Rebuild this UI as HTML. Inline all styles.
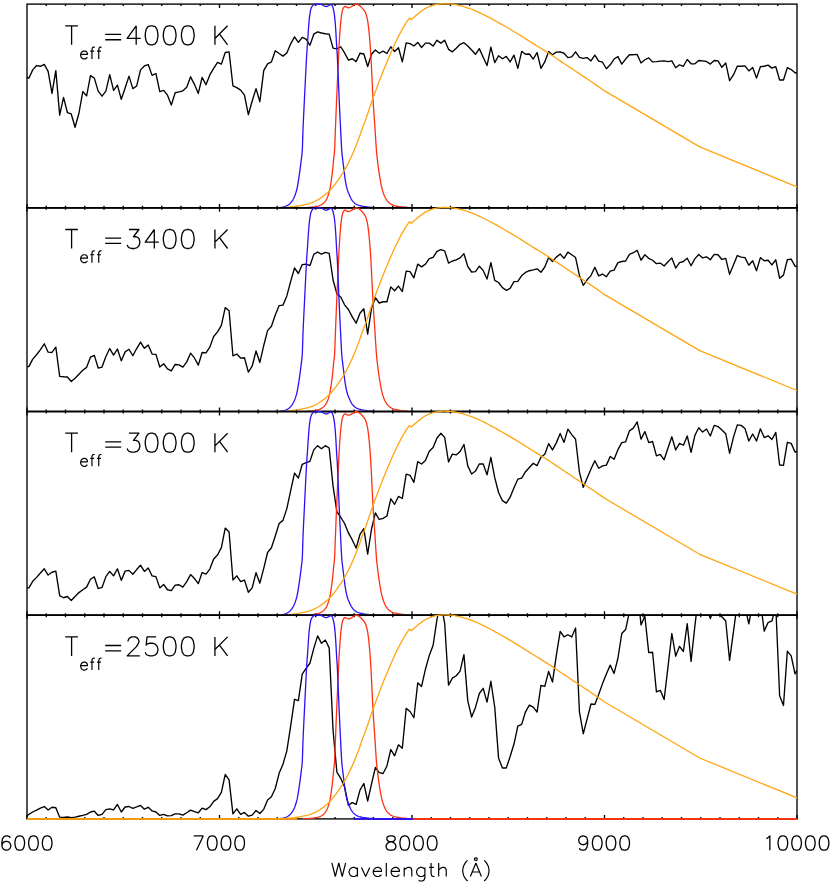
<!DOCTYPE html>
<html><head><meta charset="utf-8"><title>Spectra and filter curves</title>
<style>
html,body{margin:0;padding:0;background:#fff}
body{width:830px;height:884px;position:relative;overflow:hidden;font-family:"Liberation Sans",sans-serif}
.sr{position:absolute;left:0;top:0;width:830px;height:884px;color:transparent;font-size:10px;overflow:hidden;pointer-events:none}
.sr span{position:absolute;white-space:nowrap}
</style></head><body>
<svg width="830" height="884" viewBox="0 0 830 884" style="position:absolute;left:0;top:0">
<defs>
<clipPath id="c0"><rect x="27.00" y="4.10" width="770.00" height="203.70"/></clipPath>
<clipPath id="c1"><rect x="27.00" y="207.80" width="770.00" height="203.70"/></clipPath>
<clipPath id="c2"><rect x="27.00" y="411.50" width="770.00" height="203.70"/></clipPath>
<clipPath id="c3"><rect x="27.00" y="615.20" width="770.00" height="203.70"/></clipPath>
<clipPath id="f0"><rect x="0" y="1.10" width="830" height="205.85"/></clipPath>
<clipPath id="f1"><rect x="0" y="204.80" width="830" height="205.85"/></clipPath>
<clipPath id="f2"><rect x="0" y="408.50" width="830" height="205.85"/></clipPath>
</defs>
<rect width="830" height="884" fill="#fff"/>
<g fill="none" stroke="#000" stroke-width="1.35">
<rect x="27.00" y="4.10" width="770.00" height="203.70"/>
<path d="M27.00 207.80v-3.90 M46.25 4.10v2.00 M46.25 207.80v-2.00 M65.50 4.10v2.00 M65.50 207.80v-2.00 M84.75 4.10v2.00 M84.75 207.80v-2.00 M104.00 4.10v2.00 M104.00 207.80v-2.00 M123.25 4.10v2.00 M123.25 207.80v-2.00 M142.50 4.10v2.00 M142.50 207.80v-2.00 M161.75 4.10v2.00 M161.75 207.80v-2.00 M181.00 4.10v2.00 M181.00 207.80v-2.00 M200.25 4.10v2.00 M200.25 207.80v-2.00 M219.50 4.10v3.90 M219.50 207.80v-3.90 M238.75 4.10v2.00 M238.75 207.80v-2.00 M258.00 4.10v2.00 M258.00 207.80v-2.00 M277.25 4.10v2.00 M277.25 207.80v-2.00 M296.50 4.10v2.00 M296.50 207.80v-2.00 M315.75 4.10v2.00 M315.75 207.80v-2.00 M335.00 4.10v2.00 M335.00 207.80v-2.00 M354.25 4.10v2.00 M354.25 207.80v-2.00 M373.50 4.10v2.00 M373.50 207.80v-2.00 M392.75 4.10v2.00 M392.75 207.80v-2.00 M412.00 4.10v3.90 M412.00 207.80v-3.90 M431.25 4.10v2.00 M431.25 207.80v-2.00 M450.50 4.10v2.00 M450.50 207.80v-2.00 M469.75 4.10v2.00 M469.75 207.80v-2.00 M489.00 4.10v2.00 M489.00 207.80v-2.00 M508.25 4.10v2.00 M508.25 207.80v-2.00 M527.50 4.10v2.00 M527.50 207.80v-2.00 M546.75 4.10v2.00 M546.75 207.80v-2.00 M566.00 4.10v2.00 M566.00 207.80v-2.00 M585.25 4.10v2.00 M585.25 207.80v-2.00 M604.50 4.10v3.90 M604.50 207.80v-3.90 M623.75 4.10v2.00 M623.75 207.80v-2.00 M643.00 4.10v2.00 M643.00 207.80v-2.00 M662.25 4.10v2.00 M662.25 207.80v-2.00 M681.50 4.10v2.00 M681.50 207.80v-2.00 M700.75 4.10v2.00 M700.75 207.80v-2.00 M720.00 4.10v2.00 M720.00 207.80v-2.00 M739.25 4.10v2.00 M739.25 207.80v-2.00 M758.50 4.10v2.00 M758.50 207.80v-2.00 M777.75 4.10v2.00 M777.75 207.80v-2.00 M797.00 207.80v-3.90"/>
</g>
<path clip-path="url(#c0)" d="M27.00 77.11 L28.88 78.27 L32.73 69.88 L36.58 65.54 L40.43 66.27 L44.28 64.39 L48.13 71.33 L51.98 93.45 L55.83 70.60 L59.68 115.13 L63.53 97.35 L67.38 112.53 L71.23 113.98 L75.08 127.28 L78.93 113.25 L82.78 91.57 L86.63 95.90 L90.48 75.66 L94.33 78.12 L98.18 91.13 L102.03 96.19 L105.88 91.13 L109.73 74.65 L113.58 90.41 L117.43 85.06 L121.28 99.23 L125.13 87.95 L128.98 76.10 L132.83 88.67 L136.68 85.93 L140.53 69.88 L144.38 65.98 L148.23 64.53 L152.08 75.37 L155.93 73.49 L159.78 91.57 L163.63 90.41 L167.48 95.18 L171.33 105.01 L175.18 92.72 L179.03 91.86 L182.88 90.84 L186.73 87.23 L190.58 76.82 L194.43 84.34 L198.28 93.45 L202.13 77.40 L205.98 84.77 L209.83 74.94 L213.68 68.43 L217.53 62.36 L221.38 64.10 L225.23 52.53 L229.08 51.81 L232.93 85.78 L236.78 87.66 L240.63 90.12 L244.48 95.18 L248.33 114.70 L252.18 100.96 L256.03 88.67 L259.88 101.69 L263.73 70.60 L267.58 63.81 L271.43 61.93 L275.28 50.80 L279.13 53.54 L282.98 56.14 L286.83 52.96 L290.68 43.86 L294.53 36.92 L298.38 42.41 L302.23 37.35 L306.08 39.23 L309.93 45.30 L313.78 34.17 L317.63 31.86 L321.48 33.01 L325.33 33.73 L329.18 34.17 L333.03 48.19 L336.88 48.92 L340.73 46.75 L344.58 52.96 L348.43 60.19 L352.28 58.75 L356.13 61.64 L359.98 53.25 L363.83 53.98 L367.68 66.55 L371.53 54.27 L375.38 50.07 L379.23 53.25 L383.08 51.08 L386.93 53.54 L390.78 46.75 L394.63 51.52 L398.48 47.76 L402.33 61.93 L406.18 42.84 L410.03 43.57 L413.88 46.02 L417.73 42.41 L421.58 47.47 L425.43 43.13 L429.28 43.13 L433.13 46.02 L436.98 40.24 L440.83 43.13 L444.68 40.24 L448.53 49.35 L452.38 51.81 L456.23 48.19 L460.08 44.29 L463.93 42.70 L467.78 46.02 L471.63 50.07 L475.48 54.27 L479.33 48.63 L483.18 57.30 L487.03 65.54 L490.88 47.04 L494.73 62.65 L498.58 55.71 L502.43 58.75 L506.28 56.43 L510.13 61.93 L513.98 55.13 L517.83 68.43 L521.68 51.37 L525.53 54.27 L529.38 53.98 L533.23 59.04 L537.08 52.53 L540.93 68.43 L544.78 61.93 L548.63 51.52 L552.48 54.70 L556.33 52.10 L560.18 51.81 L564.03 53.25 L567.88 57.59 L571.73 56.87 L575.58 51.81 L579.43 57.30 L583.28 58.31 L587.13 57.59 L590.98 60.92 L594.83 55.13 L598.68 61.20 L602.53 62.22 L606.38 68.72 L610.23 64.82 L614.08 59.04 L617.93 56.58 L621.78 64.10 L625.63 59.04 L629.48 54.70 L633.33 54.70 L637.18 54.41 L641.03 62.94 L644.88 59.76 L648.73 57.88 L652.58 61.93 L656.43 61.64 L660.28 61.06 L664.13 60.92 L667.98 61.64 L671.83 60.92 L675.68 67.71 L679.53 64.82 L683.38 66.27 L687.23 59.47 L691.08 63.81 L694.93 63.81 L698.78 60.48 L702.63 60.92 L706.48 61.49 L710.33 64.10 L714.18 60.48 L718.03 60.92 L721.88 67.28 L725.73 62.94 L729.58 80.72 L733.43 74.94 L737.28 66.27 L741.13 66.27 L744.98 65.83 L748.83 70.89 L752.68 67.42 L756.53 78.12 L760.38 66.70 L764.23 66.27 L768.08 65.11 L771.93 68.14 L775.78 66.70 L779.63 80.00 L783.48 80.00 L787.33 67.71 L791.18 69.59 L795.03 72.77 L797.00 73.20" fill="none" stroke="#000" stroke-width="1.35" stroke-linejoin="round"/>
<g fill="none" stroke-width="1.3" stroke-linejoin="round" clip-path="url(#f0)">
<path d="M303.00 208.40 L303.85 208.40 L305.04 208.40 L306.45 208.40 L307.92 207.46 L309.32 207.38 L310.50 207.30 L311.47 207.22 L312.33 207.13 L313.12 207.04 L313.87 206.94 L314.58 206.83 L315.30 206.70 L316.01 206.56 L316.69 206.42 L317.34 206.27 L317.98 206.10 L318.60 205.91 L319.20 205.70 L319.79 205.47 L320.36 205.23 L320.91 204.97 L321.45 204.68 L321.98 204.36 L322.50 204.00 L323.01 203.61 L323.51 203.19 L324.01 202.74 L324.49 202.25 L324.95 201.71 L325.40 201.10 L325.83 200.44 L326.24 199.75 L326.64 199.00 L327.03 198.19 L327.42 197.29 L327.80 196.30 L328.19 195.21 L328.57 194.02 L328.96 192.76 L329.33 191.42 L329.68 190.03 L330.00 188.60 L330.29 187.10 L330.56 185.51 L330.81 183.87 L331.05 182.20 L331.28 180.53 L331.50 178.90 L331.72 177.30 L331.93 175.70 L332.14 174.10 L332.33 172.50 L332.52 170.90 L332.70 169.30 L332.87 167.69 L333.02 166.07 L333.16 164.45 L333.30 162.83 L333.45 161.21 L333.60 159.60 L333.76 158.15 L333.93 156.89 L334.10 155.62 L334.27 154.18 L334.44 152.37 L334.60 150.00 L334.75 147.00 L334.90 143.51 L335.04 139.64 L335.19 135.54 L335.34 131.31 L335.50 127.10 L335.66 122.98 L335.83 118.86 L335.99 114.62 L336.17 110.14 L336.37 105.31 L336.60 100.00 L336.87 93.81 L337.19 86.76 L337.52 79.34 L337.85 72.08 L338.15 65.46 L338.40 60.00 L338.59 55.88 L338.73 52.72 L338.84 50.22 L338.95 48.04 L339.06 45.88 L339.20 43.40 L339.37 40.60 L339.54 37.74 L339.73 34.89 L339.92 32.11 L340.11 29.49 L340.30 27.10 L340.48 24.93 L340.67 22.91 L340.85 21.06 L341.03 19.34 L341.22 17.76 L341.40 16.30 L341.58 14.99 L341.76 13.83 L341.94 12.81 L342.12 11.89 L342.31 11.07 L342.50 10.30 L342.70 9.61 L342.91 9.03 L343.12 8.53 L343.34 8.10 L343.56 7.73 L343.80 7.40 L344.04 7.11 L344.27 6.87 L344.51 6.69 L344.77 6.56 L345.07 6.50 L345.40 6.50 L345.79 6.61 L346.22 6.85 L346.68 7.14 L347.16 7.44 L347.64 7.68 L348.10 7.80 L348.55 7.80 L349.00 7.73 L349.44 7.59 L349.89 7.42 L350.34 7.22 L350.80 7.00 L351.26 6.75 L351.73 6.45 L352.20 6.12 L352.67 5.79 L353.14 5.47 L353.60 5.20 L354.06 4.95 L354.51 4.70 L354.96 4.47 L355.40 4.28 L355.85 4.15 L356.30 4.10 L356.75 4.14 L357.20 4.26 L357.65 4.43 L358.10 4.66 L358.55 4.92 L359.00 5.20 L359.45 5.52 L359.90 5.87 L360.35 6.27 L360.80 6.69 L361.25 7.14 L361.70 7.60 L362.16 8.09 L362.64 8.60 L363.12 9.14 L363.58 9.70 L364.01 10.25 L364.40 10.80 L364.73 11.32 L365.02 11.81 L365.28 12.31 L365.52 12.84 L365.76 13.43 L366.00 14.10 L366.25 14.85 L366.49 15.66 L366.73 16.53 L366.96 17.46 L367.19 18.45 L367.40 19.50 L367.60 20.60 L367.79 21.75 L367.97 22.96 L368.14 24.24 L368.32 25.62 L368.50 27.10 L368.69 28.73 L368.88 30.49 L369.07 32.35 L369.26 34.25 L369.43 36.15 L369.60 38.00 L369.75 39.80 L369.89 41.59 L370.03 43.38 L370.15 45.17 L370.28 46.98 L370.40 48.80 L370.51 50.31 L370.59 51.44 L370.67 52.57 L370.77 54.12 L370.91 56.46 L371.10 60.00 L371.36 65.15 L371.68 71.68 L372.03 79.01 L372.40 86.56 L372.76 93.75 L373.10 100.00 L373.42 105.31 L373.73 110.14 L374.03 114.62 L374.33 118.86 L374.62 122.98 L374.90 127.10 L375.17 131.31 L375.44 135.54 L375.70 139.64 L375.95 143.51 L376.18 147.00 L376.40 150.00 L376.59 152.37 L376.76 154.18 L376.92 155.62 L377.07 156.89 L377.23 158.15 L377.40 159.60 L377.58 161.21 L377.77 162.83 L377.97 164.45 L378.17 166.07 L378.38 167.69 L378.60 169.30 L378.83 170.90 L379.06 172.50 L379.31 174.10 L379.56 175.70 L379.82 177.30 L380.10 178.90 L380.39 180.53 L380.68 182.20 L380.98 183.87 L381.30 185.51 L381.64 187.10 L382.00 188.60 L382.39 190.03 L382.80 191.42 L383.24 192.76 L383.69 194.02 L384.14 195.21 L384.60 196.30 L385.06 197.29 L385.53 198.19 L386.00 199.00 L386.49 199.75 L386.98 200.44 L387.50 201.10 L388.03 201.71 L388.58 202.26 L389.14 202.75 L389.71 203.20 L390.30 203.61 L390.90 204.00 L391.50 204.35 L392.10 204.65 L392.71 204.91 L393.35 205.15 L394.04 205.38 L394.80 205.60 L395.63 205.82 L396.53 206.02 L397.47 206.21 L398.45 206.39 L399.47 206.55 L400.50 206.70 L401.56 206.83 L402.65 206.94 L403.78 207.04 L404.93 207.13 L406.10 207.21 L407.30 207.30 L404.20 207.39 L395.94 207.49 L387.70 208.40 L384.67 208.40 L392.05 208.40 L415.00 208.40 L461.43 208.40 L528.76 208.40 L606.48 208.40 L684.10 208.40 L751.11 208.40 L797.00 208.40" stroke="#ff3010"/>
<path d="M272.00 208.40 L272.86 208.40 L274.07 208.40 L275.49 208.40 L276.99 208.40 L278.40 208.40 L279.60 208.40 L280.59 207.41 L281.47 207.31 L282.29 207.20 L283.05 207.06 L283.78 206.90 L284.50 206.70 L285.20 206.48 L285.86 206.23 L286.49 205.96 L287.10 205.65 L287.70 205.30 L288.30 204.90 L288.90 204.46 L289.48 203.99 L290.06 203.47 L290.62 202.90 L291.17 202.28 L291.70 201.60 L292.22 200.86 L292.72 200.07 L293.21 199.22 L293.69 198.32 L294.15 197.35 L294.60 196.30 L295.04 195.18 L295.46 193.99 L295.88 192.73 L296.27 191.40 L296.65 190.03 L297.00 188.60 L297.33 187.10 L297.63 185.51 L297.91 183.87 L298.18 182.20 L298.44 180.53 L298.70 178.90 L298.95 177.30 L299.20 175.70 L299.43 174.10 L299.66 172.50 L299.88 170.90 L300.10 169.30 L300.31 167.69 L300.52 166.07 L300.73 164.45 L300.92 162.83 L301.11 161.21 L301.30 159.60 L301.48 158.15 L301.66 156.89 L301.83 155.62 L301.99 154.18 L302.15 152.37 L302.30 150.00 L302.44 147.00 L302.56 143.51 L302.68 139.64 L302.80 135.54 L302.94 131.31 L303.10 127.10 L303.28 122.98 L303.47 118.86 L303.68 114.62 L303.90 110.14 L304.14 105.31 L304.40 100.00 L304.70 93.81 L305.05 86.76 L305.41 79.34 L305.77 72.08 L306.11 65.46 L306.40 60.00 L306.64 55.88 L306.83 52.72 L307.01 50.22 L307.17 48.04 L307.33 45.88 L307.50 43.40 L307.68 40.60 L307.87 37.74 L308.06 34.89 L308.24 32.11 L308.42 29.49 L308.60 27.10 L308.77 24.94 L308.93 22.97 L309.08 21.16 L309.24 19.46 L309.41 17.85 L309.60 16.30 L309.80 14.80 L310.02 13.37 L310.24 12.03 L310.48 10.80 L310.73 9.68 L311.00 8.70 L311.28 7.88 L311.59 7.20 L311.90 6.64 L312.23 6.18 L312.56 5.77 L312.90 5.40 L313.24 5.08 L313.57 4.84 L313.92 4.66 L314.28 4.52 L314.67 4.41 L315.10 4.30 L315.57 4.21 L316.09 4.14 L316.63 4.10 L317.19 4.08 L317.75 4.08 L318.30 4.10 L318.85 4.13 L319.41 4.18 L319.98 4.25 L320.54 4.34 L321.08 4.46 L321.60 4.60 L322.09 4.79 L322.57 5.03 L323.03 5.30 L323.47 5.57 L323.89 5.81 L324.30 6.00 L324.68 6.15 L325.04 6.29 L325.38 6.39 L325.71 6.47 L326.05 6.51 L326.40 6.50 L326.76 6.43 L327.13 6.31 L327.49 6.14 L327.86 5.96 L328.23 5.77 L328.60 5.60 L328.97 5.41 L329.36 5.19 L329.74 4.96 L330.11 4.76 L330.47 4.63 L330.80 4.60 L331.11 4.67 L331.40 4.80 L331.67 5.00 L331.93 5.27 L332.17 5.60 L332.40 6.00 L332.61 6.46 L332.80 6.99 L332.98 7.58 L333.15 8.24 L333.32 8.98 L333.50 9.80 L333.68 10.65 L333.87 11.53 L334.05 12.48 L334.23 13.55 L334.42 14.81 L334.60 16.30 L334.79 18.08 L334.98 20.11 L335.17 22.33 L335.36 24.64 L335.53 26.99 L335.70 29.30 L335.85 31.56 L335.98 33.83 L336.11 36.12 L336.23 38.47 L336.36 40.89 L336.50 43.40 L336.65 45.75 L336.79 47.88 L336.94 50.08 L337.11 52.64 L337.29 55.85 L337.50 60.00 L337.75 65.46 L338.03 72.08 L338.33 79.34 L338.64 86.76 L338.93 93.81 L339.20 100.00 L339.44 105.31 L339.67 110.14 L339.88 114.62 L340.09 118.86 L340.29 122.98 L340.50 127.10 L340.71 131.31 L340.91 135.54 L341.12 139.64 L341.32 143.51 L341.51 147.00 L341.70 150.00 L341.88 152.37 L342.04 154.18 L342.20 155.62 L342.36 156.89 L342.52 158.15 L342.70 159.60 L342.89 161.21 L343.09 162.83 L343.29 164.45 L343.49 166.07 L343.70 167.69 L343.90 169.30 L344.09 170.90 L344.27 172.50 L344.46 174.10 L344.65 175.70 L344.86 177.30 L345.10 178.90 L345.37 180.55 L345.66 182.24 L345.97 183.93 L346.30 185.59 L346.64 187.16 L347.00 188.60 L347.38 189.91 L347.78 191.11 L348.19 192.22 L348.62 193.28 L349.06 194.30 L349.50 195.30 L349.94 196.28 L350.37 197.23 L350.81 198.14 L351.27 199.01 L351.77 199.83 L352.30 200.60 L352.88 201.32 L353.49 202.00 L354.13 202.62 L354.79 203.20 L355.49 203.73 L356.20 204.20 L356.94 204.60 L357.70 204.93 L358.48 205.21 L359.29 205.46 L360.13 205.68 L361.00 205.90 L361.90 206.11 L362.82 206.30 L363.77 206.47 L364.76 206.62 L365.76 206.76 L366.80 206.90 L367.82 207.03 L368.82 207.14 L369.85 207.24 L370.96 207.34 L372.19 207.42 L373.60 208.40 L375.04 208.40 L376.44 208.40 L377.98 208.40 L379.80 208.40 L382.09 208.40 L385.00 208.40 L389.03 208.40 L394.14 208.40 L399.71 208.40 L405.13 208.40 L409.76 208.40 L413.00 208.40" stroke="#2a10f5"/>
<path d="M27.00 208.40 L280.00 208.40 L280.00 208.40 L280.49 208.40 L281.16 208.40 L281.95 208.40 L282.81 208.40 L283.68 208.40 L284.50 208.40 L285.28 207.44 L286.08 207.38 L286.88 207.31 L287.69 207.24 L288.50 207.17 L289.30 207.10 L290.10 207.02 L290.90 206.95 L291.70 206.87 L292.50 206.79 L293.30 206.70 L294.10 206.60 L294.90 206.50 L295.70 206.39 L296.50 206.28 L297.30 206.16 L298.10 206.04 L298.90 205.90 L299.70 205.75 L300.50 205.59 L301.29 205.43 L302.09 205.25 L302.89 205.08 L303.70 204.90 L304.51 204.73 L305.33 204.57 L306.15 204.40 L306.97 204.22 L307.79 204.02 L308.60 203.80 L309.41 203.55 L310.21 203.27 L311.01 202.98 L311.80 202.67 L312.60 202.34 L313.40 202.00 L314.20 201.65 L315.00 201.28 L315.80 200.89 L316.60 200.49 L317.40 200.06 L318.20 199.60 L319.00 199.11 L319.80 198.59 L320.60 198.04 L321.40 197.48 L322.20 196.90 L323.00 196.30 L323.80 195.70 L324.60 195.10 L325.39 194.47 L326.19 193.83 L326.99 193.14 L327.80 192.40 L328.61 191.61 L329.43 190.77 L330.25 189.90 L331.07 188.99 L331.89 188.06 L332.70 187.10 L333.48 186.15 L334.24 185.21 L334.99 184.25 L335.76 183.22 L336.59 182.08 L337.50 180.80 L338.53 179.33 L339.66 177.69 L340.84 175.94 L342.03 174.15 L343.17 172.38 L344.20 170.70 L345.12 169.12 L345.97 167.59 L346.77 166.08 L347.54 164.57 L348.31 163.02 L349.10 161.40 L349.91 159.72 L350.71 158.01 L351.51 156.27 L352.30 154.49 L353.10 152.66 L353.90 150.80 L354.72 148.85 L355.56 146.82 L356.39 144.74 L357.21 142.68 L357.99 140.68 L358.70 138.80 L359.33 137.06 L359.89 135.43 L360.40 133.86 L360.90 132.31 L361.43 130.74 L362.00 129.10 L362.59 127.51 L363.17 126.03 L363.77 124.53 L364.42 122.88 L365.15 120.94 L366.00 118.60 L367.01 115.67 L368.18 112.23 L369.43 108.51 L370.69 104.74 L371.90 101.16 L373.00 98.00 L373.97 95.29 L374.87 92.86 L375.71 90.61 L376.53 88.46 L377.35 86.32 L378.20 84.10 L379.07 81.81 L379.94 79.51 L380.81 77.23 L381.68 74.97 L382.54 72.76 L383.40 70.60 L384.25 68.49 L385.11 66.41 L385.96 64.38 L386.79 62.40 L387.61 60.47 L388.40 58.60 L389.16 56.81 L389.89 55.08 L390.60 53.41 L391.30 51.79 L392.00 50.19 L392.70 48.60 L393.41 47.03 L394.11 45.50 L394.81 43.99 L395.50 42.50 L396.20 41.04 L396.90 39.60 L397.60 38.18 L398.30 36.77 L399.00 35.39 L399.70 34.04 L400.40 32.71 L401.10 31.40 L401.80 30.12 L402.50 28.86 L403.20 27.62 L403.90 26.41 L404.60 25.24 L405.30 24.10 L406.05 22.94 L406.86 21.75 L407.66 20.59 L408.41 19.54 L409.04 18.65 L409.50 18.00 L411.40 19.60 L411.82 19.22 L412.40 18.69 L413.08 18.06 L413.84 17.38 L414.62 16.68 L415.40 16.00 L416.19 15.33 L417.02 14.61 L417.89 13.89 L418.77 13.16 L419.64 12.46 L420.50 11.80 L421.34 11.17 L422.17 10.57 L423.00 9.98 L423.83 9.42 L424.66 8.89 L425.50 8.40 L426.34 7.94 L427.19 7.52 L428.04 7.13 L428.90 6.77 L429.75 6.42 L430.60 6.10 L431.45 5.79 L432.30 5.51 L433.16 5.24 L434.01 5.00 L434.86 4.79 L435.70 4.60 L436.54 4.44 L437.38 4.32 L438.22 4.22 L439.05 4.14 L439.88 4.07 L440.70 4.00 L441.45 3.93 L442.11 3.86 L442.77 3.81 L443.51 3.80 L444.39 3.80 L445.50 3.80 L446.83 3.85 L448.31 3.89 L449.95 3.97 L451.73 4.11 L453.65 4.34 L455.70 4.70 L457.95 5.19 L460.40 5.79 L462.99 6.48 L465.66 7.26 L468.31 8.10 L470.90 9.00 L473.42 9.97 L475.94 11.03 L478.45 12.15 L480.96 13.33 L483.48 14.55 L486.00 15.80 L488.53 17.09 L491.06 18.43 L493.59 19.82 L496.13 21.23 L498.67 22.66 L501.20 24.10 L503.73 25.54 L506.27 27.00 L508.80 28.47 L511.33 29.96 L513.87 31.47 L516.40 33.00 L518.93 34.56 L521.47 36.16 L524.00 37.77 L526.53 39.39 L529.07 41.00 L531.60 42.60 L534.13 44.17 L536.67 45.72 L539.20 47.27 L541.73 48.82 L544.27 50.40 L546.80 52.00 L549.33 53.64 L551.87 55.31 L554.41 57.01 L556.94 58.71 L559.47 60.41 L562.00 62.10 L564.52 63.78 L567.04 65.47 L569.55 67.15 L572.06 68.83 L574.58 70.52 L577.10 72.20 L579.66 73.90 L582.27 75.62 L584.87 77.34 L587.44 79.04 L589.93 80.70 L592.30 82.30 L594.66 83.92 L597.07 85.60 L599.40 87.23 L601.52 88.73 L603.30 89.98 L604.60 90.90 L604.60 90.90 L699.70 146.90 L797.00 186.80" stroke="#ffa510"/>
</g>
<path d="M26.40 207.80H797.60" stroke="#000" stroke-width="1.6"/>
<g fill="none" stroke="#000" stroke-width="1.35">
<rect x="27.00" y="207.80" width="770.00" height="203.70"/>
<path d="M27.00 207.80v3.90 M27.00 411.50v-3.90 M46.25 207.80v2.00 M46.25 411.50v-2.00 M65.50 207.80v2.00 M65.50 411.50v-2.00 M84.75 207.80v2.00 M84.75 411.50v-2.00 M104.00 207.80v2.00 M104.00 411.50v-2.00 M123.25 207.80v2.00 M123.25 411.50v-2.00 M142.50 207.80v2.00 M142.50 411.50v-2.00 M161.75 207.80v2.00 M161.75 411.50v-2.00 M181.00 207.80v2.00 M181.00 411.50v-2.00 M200.25 207.80v2.00 M200.25 411.50v-2.00 M219.50 207.80v3.90 M219.50 411.50v-3.90 M238.75 207.80v2.00 M238.75 411.50v-2.00 M258.00 207.80v2.00 M258.00 411.50v-2.00 M277.25 207.80v2.00 M277.25 411.50v-2.00 M296.50 207.80v2.00 M296.50 411.50v-2.00 M315.75 207.80v2.00 M315.75 411.50v-2.00 M335.00 207.80v2.00 M335.00 411.50v-2.00 M354.25 207.80v2.00 M354.25 411.50v-2.00 M373.50 207.80v2.00 M373.50 411.50v-2.00 M392.75 207.80v2.00 M392.75 411.50v-2.00 M412.00 207.80v3.90 M412.00 411.50v-3.90 M431.25 207.80v2.00 M431.25 411.50v-2.00 M450.50 207.80v2.00 M450.50 411.50v-2.00 M469.75 207.80v2.00 M469.75 411.50v-2.00 M489.00 207.80v2.00 M489.00 411.50v-2.00 M508.25 207.80v2.00 M508.25 411.50v-2.00 M527.50 207.80v2.00 M527.50 411.50v-2.00 M546.75 207.80v2.00 M546.75 411.50v-2.00 M566.00 207.80v2.00 M566.00 411.50v-2.00 M585.25 207.80v2.00 M585.25 411.50v-2.00 M604.50 207.80v3.90 M604.50 411.50v-3.90 M623.75 207.80v2.00 M623.75 411.50v-2.00 M643.00 207.80v2.00 M643.00 411.50v-2.00 M662.25 207.80v2.00 M662.25 411.50v-2.00 M681.50 207.80v2.00 M681.50 411.50v-2.00 M700.75 207.80v2.00 M700.75 411.50v-2.00 M720.00 207.80v2.00 M720.00 411.50v-2.00 M739.25 207.80v2.00 M739.25 411.50v-2.00 M758.50 207.80v2.00 M758.50 411.50v-2.00 M777.75 207.80v2.00 M777.75 411.50v-2.00 M797.00 207.80v3.90 M797.00 411.50v-3.90"/>
</g>
<path clip-path="url(#c1)" d="M27.00 366.63 L28.88 366.63 L32.73 359.11 L36.58 354.77 L40.43 349.57 L44.28 343.78 L48.13 352.17 L51.98 352.46 L55.83 347.11 L59.68 376.31 L63.53 376.75 L67.38 377.04 L71.23 381.52 L75.08 378.19 L78.93 374.29 L82.78 370.24 L86.63 367.35 L90.48 357.23 L94.33 355.35 L98.18 368.07 L102.03 367.06 L105.88 356.51 L109.73 348.55 L113.58 355.06 L117.43 348.99 L121.28 360.84 L125.13 351.88 L128.98 349.28 L132.83 355.78 L136.68 348.55 L140.53 342.05 L144.38 348.27 L148.23 344.94 L152.08 354.05 L155.93 354.34 L159.78 367.06 L163.63 363.73 L167.48 368.80 L171.33 370.96 L175.18 364.46 L179.03 364.89 L182.88 367.06 L186.73 361.86 L190.58 353.18 L194.43 357.95 L198.28 365.18 L202.13 352.46 L205.98 352.89 L209.83 347.11 L213.68 336.55 L217.53 331.93 L221.38 325.42 L225.23 307.64 L229.08 310.67 L232.93 355.78 L236.78 354.05 L240.63 358.07 L244.48 357.76 L248.33 372.17 L252.18 366.22 L256.03 351.02 L259.88 362.46 L263.73 345.54 L267.58 330.66 L271.43 326.28 L275.28 315.00 L279.13 305.60 L282.98 305.13 L286.83 295.89 L290.68 281.33 L294.53 268.01 L298.38 273.49 L302.23 264.57 L306.08 264.10 L309.93 265.66 L313.78 254.39 L317.63 252.04 L321.48 254.23 L325.33 252.35 L329.18 253.45 L333.03 279.76 L336.88 293.86 L340.73 296.99 L344.58 304.82 L348.43 309.52 L352.28 316.88 L356.13 323.20 L359.98 313.18 L363.83 308.80 L367.68 334.17 L371.53 308.01 L375.38 297.52 L379.23 303.00 L383.08 301.75 L386.93 301.75 L390.78 286.87 L394.63 290.78 L398.48 286.08 L402.33 291.57 L406.18 271.20 L410.03 271.67 L413.88 277.78 L417.73 264.16 L421.58 266.82 L425.43 264.16 L429.28 258.67 L433.13 257.42 L436.98 251.31 L440.83 249.59 L444.68 250.84 L448.53 263.06 L452.38 261.02 L456.23 259.93 L460.08 257.89 L463.93 253.66 L467.78 266.51 L471.63 271.99 L475.48 271.67 L479.33 266.19 L483.18 270.42 L487.03 279.04 L490.88 262.59 L494.73 280.29 L498.58 282.48 L502.43 287.65 L506.28 290.31 L510.13 288.43 L513.98 281.70 L517.83 281.39 L521.68 275.59 L525.53 272.46 L529.38 270.73 L533.23 269.95 L537.08 268.86 L540.93 272.30 L544.78 266.98 L548.63 257.58 L552.48 261.49 L556.33 257.11 L560.18 253.98 L564.03 258.36 L567.88 252.10 L571.73 254.76 L575.58 257.58 L579.43 275.43 L583.28 285.30 L587.13 279.82 L590.98 275.59 L594.83 267.29 L598.68 275.90 L602.53 274.02 L606.38 276.69 L610.23 271.20 L614.08 270.11 L617.93 262.59 L621.78 261.49 L625.63 261.02 L629.48 254.29 L633.33 252.72 L637.18 250.37 L641.03 260.24 L644.88 254.76 L648.73 258.36 L652.58 260.24 L656.43 263.69 L660.28 263.06 L664.13 266.04 L667.98 261.81 L671.83 257.89 L675.68 268.07 L679.53 262.59 L683.38 261.49 L687.23 258.20 L691.08 265.72 L694.93 258.67 L698.78 254.45 L702.63 257.89 L706.48 256.80 L710.33 259.77 L714.18 254.45 L718.03 254.76 L721.88 259.46 L725.73 258.36 L729.58 274.34 L733.43 264.94 L737.28 255.54 L741.13 257.11 L744.98 257.58 L748.83 265.25 L752.68 260.71 L756.53 270.73 L760.38 257.58 L764.23 260.71 L768.08 260.24 L771.93 264.94 L775.78 259.77 L779.63 278.25 L783.48 275.12 L787.33 259.77 L791.18 259.14 L795.03 266.19 L797.00 266.98" fill="none" stroke="#000" stroke-width="1.35" stroke-linejoin="round"/>
<g fill="none" stroke-width="1.3" stroke-linejoin="round" clip-path="url(#f1)">
<path d="M303.00 412.10 L303.85 412.10 L305.04 412.10 L306.45 412.10 L307.92 411.16 L309.32 411.08 L310.50 411.00 L311.47 410.92 L312.33 410.83 L313.12 410.74 L313.87 410.64 L314.58 410.53 L315.30 410.40 L316.01 410.26 L316.69 410.12 L317.34 409.97 L317.98 409.80 L318.60 409.61 L319.20 409.40 L319.79 409.17 L320.36 408.93 L320.91 408.67 L321.45 408.38 L321.98 408.06 L322.50 407.70 L323.01 407.31 L323.51 406.89 L324.01 406.44 L324.49 405.95 L324.95 405.41 L325.40 404.80 L325.83 404.14 L326.24 403.45 L326.64 402.70 L327.03 401.89 L327.42 400.99 L327.80 400.00 L328.19 398.91 L328.57 397.72 L328.96 396.46 L329.33 395.12 L329.68 393.73 L330.00 392.30 L330.29 390.80 L330.56 389.21 L330.81 387.57 L331.05 385.90 L331.28 384.23 L331.50 382.60 L331.72 381.00 L331.93 379.40 L332.14 377.80 L332.33 376.20 L332.52 374.60 L332.70 373.00 L332.87 371.39 L333.02 369.77 L333.16 368.15 L333.30 366.53 L333.45 364.91 L333.60 363.30 L333.76 361.85 L333.93 360.59 L334.10 359.33 L334.27 357.88 L334.44 356.07 L334.60 353.70 L334.75 350.70 L334.90 347.21 L335.04 343.34 L335.19 339.24 L335.34 335.01 L335.50 330.80 L335.66 326.68 L335.83 322.56 L335.99 318.32 L336.17 313.84 L336.37 309.01 L336.60 303.70 L336.87 297.51 L337.19 290.46 L337.52 283.04 L337.85 275.78 L338.15 269.16 L338.40 263.70 L338.59 259.58 L338.73 256.42 L338.84 253.92 L338.95 251.74 L339.06 249.58 L339.20 247.10 L339.37 244.30 L339.54 241.44 L339.73 238.59 L339.92 235.81 L340.11 233.19 L340.30 230.80 L340.48 228.63 L340.67 226.61 L340.85 224.76 L341.03 223.04 L341.22 221.46 L341.40 220.00 L341.58 218.69 L341.76 217.53 L341.94 216.51 L342.12 215.59 L342.31 214.77 L342.50 214.00 L342.70 213.31 L342.91 212.73 L343.12 212.23 L343.34 211.80 L343.56 211.43 L343.80 211.10 L344.04 210.81 L344.27 210.57 L344.51 210.39 L344.77 210.26 L345.07 210.20 L345.40 210.20 L345.79 210.31 L346.22 210.55 L346.68 210.84 L347.16 211.14 L347.64 211.38 L348.10 211.50 L348.55 211.50 L349.00 211.43 L349.44 211.29 L349.89 211.12 L350.34 210.92 L350.80 210.70 L351.26 210.45 L351.73 210.15 L352.20 209.82 L352.67 209.49 L353.14 209.17 L353.60 208.90 L354.06 208.65 L354.51 208.40 L354.96 208.17 L355.40 207.98 L355.85 207.85 L356.30 207.80 L356.75 207.84 L357.20 207.96 L357.65 208.13 L358.10 208.36 L358.55 208.62 L359.00 208.90 L359.45 209.22 L359.90 209.57 L360.35 209.97 L360.80 210.39 L361.25 210.84 L361.70 211.30 L362.16 211.79 L362.64 212.30 L363.12 212.84 L363.58 213.40 L364.01 213.95 L364.40 214.50 L364.73 215.02 L365.02 215.51 L365.28 216.01 L365.52 216.54 L365.76 217.13 L366.00 217.80 L366.25 218.55 L366.49 219.36 L366.73 220.23 L366.96 221.16 L367.19 222.15 L367.40 223.20 L367.60 224.30 L367.79 225.45 L367.97 226.66 L368.14 227.94 L368.32 229.32 L368.50 230.80 L368.69 232.43 L368.88 234.19 L369.07 236.05 L369.26 237.95 L369.43 239.85 L369.60 241.70 L369.75 243.50 L369.89 245.29 L370.03 247.08 L370.15 248.87 L370.28 250.68 L370.40 252.50 L370.51 254.01 L370.59 255.14 L370.67 256.27 L370.77 257.82 L370.91 260.16 L371.10 263.70 L371.36 268.85 L371.68 275.38 L372.03 282.71 L372.40 290.26 L372.76 297.45 L373.10 303.70 L373.42 309.01 L373.73 313.84 L374.03 318.32 L374.33 322.56 L374.62 326.68 L374.90 330.80 L375.17 335.01 L375.44 339.24 L375.70 343.34 L375.95 347.21 L376.18 350.70 L376.40 353.70 L376.59 356.07 L376.76 357.88 L376.92 359.33 L377.07 360.59 L377.23 361.85 L377.40 363.30 L377.58 364.91 L377.77 366.53 L377.97 368.15 L378.17 369.77 L378.38 371.39 L378.60 373.00 L378.83 374.60 L379.06 376.20 L379.31 377.80 L379.56 379.40 L379.82 381.00 L380.10 382.60 L380.39 384.23 L380.68 385.90 L380.98 387.57 L381.30 389.21 L381.64 390.80 L382.00 392.30 L382.39 393.73 L382.80 395.12 L383.24 396.46 L383.69 397.72 L384.14 398.91 L384.60 400.00 L385.06 400.99 L385.53 401.89 L386.00 402.70 L386.49 403.45 L386.98 404.14 L387.50 404.80 L388.03 405.41 L388.58 405.96 L389.14 406.45 L389.71 406.90 L390.30 407.31 L390.90 407.70 L391.50 408.05 L392.10 408.35 L392.71 408.61 L393.35 408.85 L394.04 409.08 L394.80 409.30 L395.63 409.52 L396.53 409.72 L397.47 409.91 L398.45 410.09 L399.47 410.25 L400.50 410.40 L401.56 410.53 L402.65 410.64 L403.78 410.74 L404.93 410.83 L406.10 410.91 L407.30 411.00 L404.20 411.09 L395.94 411.19 L387.70 412.10 L384.67 412.10 L392.05 412.10 L415.00 412.10 L461.43 412.10 L528.76 412.10 L606.48 412.10 L684.10 412.10 L751.11 412.10 L797.00 412.10" stroke="#ff3010"/>
<path d="M272.00 412.10 L272.86 412.10 L274.07 412.10 L275.49 412.10 L276.99 412.10 L278.40 412.10 L279.60 412.10 L280.59 411.11 L281.47 411.01 L282.29 410.90 L283.05 410.76 L283.78 410.60 L284.50 410.40 L285.20 410.18 L285.86 409.93 L286.49 409.66 L287.10 409.35 L287.70 409.00 L288.30 408.60 L288.90 408.16 L289.48 407.69 L290.06 407.17 L290.62 406.60 L291.17 405.98 L291.70 405.30 L292.22 404.56 L292.72 403.77 L293.21 402.93 L293.69 402.02 L294.15 401.05 L294.60 400.00 L295.04 398.88 L295.46 397.69 L295.88 396.42 L296.27 395.10 L296.65 393.73 L297.00 392.30 L297.33 390.80 L297.63 389.21 L297.91 387.57 L298.18 385.90 L298.44 384.23 L298.70 382.60 L298.95 381.00 L299.20 379.40 L299.43 377.80 L299.66 376.20 L299.88 374.60 L300.10 373.00 L300.31 371.39 L300.52 369.77 L300.73 368.15 L300.92 366.53 L301.11 364.91 L301.30 363.30 L301.48 361.85 L301.66 360.59 L301.83 359.33 L301.99 357.88 L302.15 356.07 L302.30 353.70 L302.44 350.70 L302.56 347.21 L302.68 343.34 L302.80 339.24 L302.94 335.01 L303.10 330.80 L303.28 326.68 L303.47 322.56 L303.68 318.32 L303.90 313.84 L304.14 309.01 L304.40 303.70 L304.70 297.51 L305.05 290.46 L305.41 283.04 L305.77 275.78 L306.11 269.16 L306.40 263.70 L306.64 259.58 L306.83 256.42 L307.01 253.92 L307.17 251.74 L307.33 249.58 L307.50 247.10 L307.68 244.30 L307.87 241.44 L308.06 238.59 L308.24 235.81 L308.42 233.19 L308.60 230.80 L308.77 228.64 L308.93 226.67 L309.08 224.86 L309.24 223.16 L309.41 221.55 L309.60 220.00 L309.80 218.50 L310.02 217.07 L310.24 215.73 L310.48 214.50 L310.73 213.38 L311.00 212.40 L311.28 211.58 L311.59 210.90 L311.90 210.34 L312.23 209.88 L312.56 209.47 L312.90 209.10 L313.24 208.78 L313.57 208.54 L313.92 208.36 L314.28 208.22 L314.67 208.11 L315.10 208.00 L315.57 207.91 L316.09 207.84 L316.63 207.80 L317.19 207.78 L317.75 207.78 L318.30 207.80 L318.85 207.83 L319.41 207.88 L319.98 207.95 L320.54 208.04 L321.08 208.16 L321.60 208.30 L322.09 208.49 L322.57 208.73 L323.03 209.00 L323.47 209.27 L323.89 209.51 L324.30 209.70 L324.68 209.85 L325.04 209.99 L325.38 210.09 L325.71 210.17 L326.05 210.21 L326.40 210.20 L326.76 210.13 L327.13 210.01 L327.49 209.84 L327.86 209.66 L328.23 209.47 L328.60 209.30 L328.97 209.11 L329.36 208.89 L329.74 208.66 L330.11 208.46 L330.47 208.33 L330.80 208.30 L331.11 208.37 L331.40 208.50 L331.67 208.70 L331.93 208.97 L332.17 209.30 L332.40 209.70 L332.61 210.16 L332.80 210.69 L332.98 211.28 L333.15 211.94 L333.32 212.68 L333.50 213.50 L333.68 214.35 L333.87 215.23 L334.05 216.18 L334.23 217.25 L334.42 218.51 L334.60 220.00 L334.79 221.78 L334.98 223.81 L335.17 226.03 L335.36 228.34 L335.53 230.69 L335.70 233.00 L335.85 235.26 L335.98 237.53 L336.11 239.83 L336.23 242.17 L336.36 244.59 L336.50 247.10 L336.65 249.45 L336.79 251.58 L336.94 253.78 L337.11 256.34 L337.29 259.55 L337.50 263.70 L337.75 269.16 L338.03 275.78 L338.33 283.04 L338.64 290.46 L338.93 297.51 L339.20 303.70 L339.44 309.01 L339.67 313.84 L339.88 318.32 L340.09 322.56 L340.29 326.68 L340.50 330.80 L340.71 335.01 L340.91 339.24 L341.12 343.34 L341.32 347.21 L341.51 350.70 L341.70 353.70 L341.88 356.07 L342.04 357.88 L342.20 359.33 L342.36 360.59 L342.52 361.85 L342.70 363.30 L342.89 364.91 L343.09 366.53 L343.29 368.15 L343.49 369.77 L343.70 371.39 L343.90 373.00 L344.09 374.60 L344.27 376.20 L344.46 377.80 L344.65 379.40 L344.86 381.00 L345.10 382.60 L345.37 384.25 L345.66 385.94 L345.97 387.63 L346.30 389.29 L346.64 390.86 L347.00 392.30 L347.38 393.61 L347.78 394.81 L348.19 395.93 L348.62 396.98 L349.06 398.00 L349.50 399.00 L349.94 399.98 L350.37 400.93 L350.81 401.84 L351.27 402.71 L351.77 403.53 L352.30 404.30 L352.88 405.02 L353.49 405.70 L354.13 406.32 L354.79 406.90 L355.49 407.43 L356.20 407.90 L356.94 408.30 L357.70 408.63 L358.48 408.91 L359.29 409.16 L360.13 409.38 L361.00 409.60 L361.90 409.81 L362.82 410.00 L363.77 410.17 L364.76 410.32 L365.76 410.46 L366.80 410.60 L367.82 410.73 L368.82 410.84 L369.85 410.94 L370.96 411.04 L372.19 411.12 L373.60 412.10 L375.04 412.10 L376.44 412.10 L377.98 412.10 L379.80 412.10 L382.09 412.10 L385.00 412.10 L389.03 412.10 L394.14 412.10 L399.71 412.10 L405.13 412.10 L409.76 412.10 L413.00 412.10" stroke="#2a10f5"/>
<path d="M27.00 412.10 L280.00 412.10 L280.00 412.10 L280.49 412.10 L281.16 412.10 L281.95 412.10 L282.81 412.10 L283.68 412.10 L284.50 412.10 L285.28 411.14 L286.08 411.08 L286.88 411.01 L287.69 410.94 L288.50 410.87 L289.30 410.80 L290.10 410.72 L290.90 410.65 L291.70 410.57 L292.50 410.49 L293.30 410.40 L294.10 410.30 L294.90 410.20 L295.70 410.09 L296.50 409.98 L297.30 409.86 L298.10 409.74 L298.90 409.60 L299.70 409.45 L300.50 409.29 L301.29 409.12 L302.09 408.95 L302.89 408.78 L303.70 408.60 L304.51 408.43 L305.33 408.27 L306.15 408.10 L306.97 407.92 L307.79 407.73 L308.60 407.50 L309.41 407.25 L310.21 406.97 L311.01 406.68 L311.80 406.37 L312.60 406.04 L313.40 405.70 L314.20 405.35 L315.00 404.98 L315.80 404.59 L316.60 404.19 L317.40 403.76 L318.20 403.30 L319.00 402.81 L319.80 402.29 L320.60 401.74 L321.40 401.18 L322.20 400.60 L323.00 400.00 L323.80 399.40 L324.60 398.80 L325.39 398.17 L326.19 397.53 L326.99 396.84 L327.80 396.10 L328.61 395.31 L329.43 394.47 L330.25 393.60 L331.07 392.69 L331.89 391.76 L332.70 390.80 L333.48 389.85 L334.24 388.91 L334.99 387.95 L335.76 386.92 L336.59 385.78 L337.50 384.50 L338.53 383.03 L339.66 381.39 L340.84 379.64 L342.03 377.85 L343.17 376.08 L344.20 374.40 L345.12 372.82 L345.97 371.29 L346.77 369.78 L347.54 368.27 L348.31 366.72 L349.10 365.10 L349.91 363.42 L350.71 361.71 L351.51 359.97 L352.30 358.19 L353.10 356.36 L353.90 354.50 L354.72 352.55 L355.56 350.52 L356.39 348.44 L357.21 346.38 L357.99 344.38 L358.70 342.50 L359.33 340.76 L359.89 339.13 L360.40 337.56 L360.90 336.01 L361.43 334.44 L362.00 332.80 L362.59 331.21 L363.17 329.73 L363.77 328.23 L364.42 326.58 L365.15 324.64 L366.00 322.30 L367.01 319.37 L368.18 315.93 L369.43 312.21 L370.69 308.44 L371.90 304.86 L373.00 301.70 L373.97 298.99 L374.87 296.56 L375.71 294.31 L376.53 292.16 L377.35 290.02 L378.20 287.80 L379.07 285.51 L379.94 283.21 L380.81 280.93 L381.68 278.67 L382.54 276.46 L383.40 274.30 L384.25 272.19 L385.11 270.11 L385.96 268.08 L386.79 266.10 L387.61 264.17 L388.40 262.30 L389.16 260.51 L389.89 258.78 L390.60 257.11 L391.30 255.49 L392.00 253.89 L392.70 252.30 L393.41 250.73 L394.11 249.20 L394.81 247.69 L395.50 246.20 L396.20 244.74 L396.90 243.30 L397.60 241.88 L398.30 240.47 L399.00 239.09 L399.70 237.74 L400.40 236.41 L401.10 235.10 L401.80 233.82 L402.50 232.56 L403.20 231.32 L403.90 230.11 L404.60 228.94 L405.30 227.80 L406.05 226.64 L406.86 225.45 L407.66 224.29 L408.41 223.24 L409.04 222.35 L409.50 221.70 L411.40 223.30 L411.82 222.92 L412.40 222.39 L413.08 221.76 L413.84 221.08 L414.62 220.38 L415.40 219.70 L416.19 219.03 L417.02 218.31 L417.89 217.59 L418.77 216.86 L419.64 216.16 L420.50 215.50 L421.34 214.87 L422.17 214.27 L423.00 213.68 L423.83 213.12 L424.66 212.59 L425.50 212.10 L426.34 211.64 L427.19 211.22 L428.04 210.83 L428.90 210.47 L429.75 210.12 L430.60 209.80 L431.45 209.49 L432.30 209.21 L433.16 208.94 L434.01 208.70 L434.86 208.49 L435.70 208.30 L436.54 208.14 L437.38 208.02 L438.22 207.92 L439.05 207.84 L439.88 207.77 L440.70 207.70 L441.45 207.63 L442.11 207.56 L442.77 207.51 L443.51 207.50 L444.39 207.50 L445.50 207.50 L446.83 207.55 L448.31 207.59 L449.95 207.67 L451.73 207.81 L453.65 208.04 L455.70 208.40 L457.95 208.89 L460.40 209.49 L462.99 210.18 L465.66 210.96 L468.31 211.80 L470.90 212.70 L473.42 213.67 L475.94 214.73 L478.45 215.85 L480.96 217.03 L483.48 218.25 L486.00 219.50 L488.53 220.79 L491.06 222.13 L493.59 223.52 L496.13 224.93 L498.67 226.36 L501.20 227.80 L503.73 229.24 L506.27 230.70 L508.80 232.17 L511.33 233.66 L513.87 235.17 L516.40 236.70 L518.93 238.26 L521.47 239.86 L524.00 241.47 L526.53 243.09 L529.07 244.70 L531.60 246.30 L534.13 247.87 L536.67 249.42 L539.20 250.97 L541.73 252.52 L544.27 254.10 L546.80 255.70 L549.33 257.34 L551.87 259.01 L554.41 260.71 L556.94 262.41 L559.47 264.11 L562.00 265.80 L564.52 267.48 L567.04 269.17 L569.55 270.85 L572.06 272.53 L574.58 274.22 L577.10 275.90 L579.66 277.60 L582.27 279.32 L584.87 281.04 L587.44 282.74 L589.93 284.40 L592.30 286.00 L594.66 287.62 L597.07 289.30 L599.40 290.93 L601.52 292.43 L603.30 293.68 L604.60 294.60 L604.60 294.60 L699.70 350.60 L797.00 390.50" stroke="#ffa510"/>
</g>
<path d="M26.40 411.50H797.60" stroke="#000" stroke-width="1.6"/>
<g fill="none" stroke="#000" stroke-width="1.35">
<rect x="27.00" y="411.50" width="770.00" height="203.70"/>
<path d="M27.00 411.50v3.90 M27.00 615.20v-3.90 M46.25 411.50v2.00 M46.25 615.20v-2.00 M65.50 411.50v2.00 M65.50 615.20v-2.00 M84.75 411.50v2.00 M84.75 615.20v-2.00 M104.00 411.50v2.00 M104.00 615.20v-2.00 M123.25 411.50v2.00 M123.25 615.20v-2.00 M142.50 411.50v2.00 M142.50 615.20v-2.00 M161.75 411.50v2.00 M161.75 615.20v-2.00 M181.00 411.50v2.00 M181.00 615.20v-2.00 M200.25 411.50v2.00 M200.25 615.20v-2.00 M219.50 411.50v3.90 M219.50 615.20v-3.90 M238.75 411.50v2.00 M238.75 615.20v-2.00 M258.00 411.50v2.00 M258.00 615.20v-2.00 M277.25 411.50v2.00 M277.25 615.20v-2.00 M296.50 411.50v2.00 M296.50 615.20v-2.00 M315.75 411.50v2.00 M315.75 615.20v-2.00 M335.00 411.50v2.00 M335.00 615.20v-2.00 M354.25 411.50v2.00 M354.25 615.20v-2.00 M373.50 411.50v2.00 M373.50 615.20v-2.00 M392.75 411.50v2.00 M392.75 615.20v-2.00 M412.00 411.50v3.90 M412.00 615.20v-3.90 M431.25 411.50v2.00 M431.25 615.20v-2.00 M450.50 411.50v2.00 M450.50 615.20v-2.00 M469.75 411.50v2.00 M469.75 615.20v-2.00 M489.00 411.50v2.00 M489.00 615.20v-2.00 M508.25 411.50v2.00 M508.25 615.20v-2.00 M527.50 411.50v2.00 M527.50 615.20v-2.00 M546.75 411.50v2.00 M546.75 615.20v-2.00 M566.00 411.50v2.00 M566.00 615.20v-2.00 M585.25 411.50v2.00 M585.25 615.20v-2.00 M604.50 411.50v3.90 M604.50 615.20v-3.90 M623.75 411.50v2.00 M623.75 615.20v-2.00 M643.00 411.50v2.00 M643.00 615.20v-2.00 M662.25 411.50v2.00 M662.25 615.20v-2.00 M681.50 411.50v2.00 M681.50 615.20v-2.00 M700.75 411.50v2.00 M700.75 615.20v-2.00 M720.00 411.50v2.00 M720.00 615.20v-2.00 M739.25 411.50v2.00 M739.25 615.20v-2.00 M758.50 411.50v2.00 M758.50 615.20v-2.00 M777.75 411.50v2.00 M777.75 615.20v-2.00 M797.00 411.50v3.90 M797.00 615.20v-3.90"/>
</g>
<path clip-path="url(#c2)" d="M27.00 587.89 L28.88 587.89 L32.73 581.31 L36.58 577.40 L40.43 573.01 L44.28 568.78 L48.13 575.05 L51.98 572.23 L55.83 571.13 L59.68 595.72 L63.53 597.76 L67.38 596.51 L71.23 600.42 L75.08 596.51 L78.93 592.59 L82.78 589.77 L86.63 587.11 L90.48 579.28 L94.33 576.93 L98.18 588.67 L102.03 587.42 L105.88 576.61 L109.73 571.45 L113.58 575.83 L117.43 568.78 L121.28 580.37 L125.13 571.13 L128.98 570.35 L132.83 574.27 L136.68 569.57 L140.53 565.18 L144.38 571.45 L148.23 568.00 L152.08 575.83 L155.93 576.61 L159.78 587.89 L163.63 584.45 L167.48 589.77 L171.33 590.55 L175.18 585.07 L179.03 584.76 L182.88 587.11 L186.73 581.63 L190.58 574.58 L194.43 578.49 L198.28 583.66 L202.13 572.54 L205.98 574.11 L209.83 569.10 L213.68 558.92 L217.53 555.00 L221.38 547.64 L225.23 528.06 L229.08 531.98 L232.93 580.06 L236.78 575.83 L240.63 581.63 L244.48 580.06 L248.33 592.28 L252.18 587.89 L256.03 572.70 L259.88 583.19 L263.73 568.31 L267.58 552.47 L271.43 547.77 L275.28 536.02 L279.13 523.49 L282.98 520.36 L286.83 508.61 L290.68 490.60 L294.53 473.06 L298.38 478.07 L302.23 464.29 L306.08 462.72 L309.93 461.31 L313.78 449.88 L317.63 445.65 L321.48 448.78 L325.33 445.65 L329.18 448.00 L333.03 485.90 L336.88 511.75 L340.73 517.23 L344.58 523.49 L348.43 532.89 L352.28 539.94 L356.13 548.08 L359.98 534.46 L363.83 528.66 L367.68 554.04 L371.53 528.98 L375.38 512.89 L379.23 519.47 L383.08 518.37 L386.93 516.02 L390.78 498.80 L394.63 504.28 L398.48 496.45 L402.33 498.48 L406.18 474.20 L410.03 475.30 L413.88 482.35 L417.73 461.67 L421.58 464.02 L425.43 460.42 L429.28 451.34 L433.13 447.42 L436.98 438.02 L440.83 433.33 L444.68 437.40 L448.53 461.99 L452.38 454.16 L456.23 454.94 L460.08 451.49 L463.93 444.45 L467.78 465.90 L471.63 474.05 L475.48 471.07 L479.33 464.02 L483.18 463.87 L487.03 474.83 L490.88 457.29 L494.73 477.65 L498.58 492.53 L502.43 500.67 L506.28 503.18 L510.13 497.23 L513.98 487.83 L517.83 479.22 L521.68 478.12 L525.53 471.70 L529.38 467.47 L533.23 463.24 L537.08 465.59 L540.93 457.29 L544.78 454.16 L548.63 443.66 L552.48 449.93 L556.33 442.88 L560.18 433.48 L564.03 442.41 L567.88 429.10 L571.73 434.58 L575.58 439.28 L579.43 472.17 L583.28 487.36 L587.13 477.96 L590.98 469.04 L594.83 460.73 L598.68 468.25 L602.53 465.90 L606.38 465.12 L610.23 456.51 L614.08 459.33 L617.93 449.64 L621.78 442.59 L625.63 441.81 L629.48 430.84 L633.33 428.18 L637.18 421.92 L641.03 439.14 L644.88 431.63 L648.73 442.59 L652.58 441.49 L656.43 455.90 L660.28 454.34 L664.13 459.82 L667.98 448.07 L671.83 436.80 L675.68 449.95 L679.53 443.37 L683.38 445.25 L687.23 436.01 L691.08 452.46 L694.93 435.23 L698.78 427.71 L702.63 432.10 L706.48 428.96 L710.33 436.01 L714.18 425.36 L718.03 426.61 L721.88 430.06 L725.73 433.66 L729.58 453.24 L733.43 437.42 L737.28 424.89 L741.13 425.36 L744.98 428.49 L748.83 441.02 L752.68 433.98 L756.53 441.02 L760.38 428.81 L764.23 437.58 L768.08 435.86 L771.93 439.46 L775.78 432.41 L779.63 464.99 L783.48 465.30 L787.33 442.28 L791.18 443.37 L795.03 451.99 L797.00 451.52" fill="none" stroke="#000" stroke-width="1.35" stroke-linejoin="round"/>
<g fill="none" stroke-width="1.3" stroke-linejoin="round" clip-path="url(#f2)">
<path d="M303.00 615.80 L303.85 615.80 L305.04 615.80 L306.45 615.80 L307.92 614.86 L309.32 614.78 L310.50 614.70 L311.47 614.62 L312.33 614.53 L313.12 614.44 L313.87 614.34 L314.58 614.23 L315.30 614.10 L316.01 613.96 L316.69 613.82 L317.34 613.67 L317.98 613.50 L318.60 613.31 L319.20 613.10 L319.79 612.87 L320.36 612.63 L320.91 612.37 L321.45 612.08 L321.98 611.76 L322.50 611.40 L323.01 611.01 L323.51 610.59 L324.01 610.14 L324.49 609.65 L324.95 609.11 L325.40 608.50 L325.83 607.84 L326.24 607.15 L326.64 606.40 L327.03 605.59 L327.42 604.69 L327.80 603.70 L328.19 602.61 L328.57 601.42 L328.96 600.16 L329.33 598.82 L329.68 597.43 L330.00 596.00 L330.29 594.50 L330.56 592.91 L330.81 591.27 L331.05 589.60 L331.28 587.93 L331.50 586.30 L331.72 584.70 L331.93 583.10 L332.14 581.50 L332.33 579.90 L332.52 578.30 L332.70 576.70 L332.87 575.09 L333.02 573.47 L333.16 571.85 L333.30 570.23 L333.45 568.61 L333.60 567.00 L333.76 565.55 L333.93 564.29 L334.10 563.02 L334.27 561.58 L334.44 559.77 L334.60 557.40 L334.75 554.40 L334.90 550.91 L335.04 547.04 L335.19 542.94 L335.34 538.71 L335.50 534.50 L335.66 530.38 L335.83 526.26 L335.99 522.02 L336.17 517.54 L336.37 512.71 L336.60 507.40 L336.87 501.21 L337.19 494.16 L337.52 486.74 L337.85 479.48 L338.15 472.86 L338.40 467.40 L338.59 463.28 L338.73 460.12 L338.84 457.62 L338.95 455.44 L339.06 453.28 L339.20 450.80 L339.37 448.00 L339.54 445.14 L339.73 442.29 L339.92 439.51 L340.11 436.89 L340.30 434.50 L340.48 432.33 L340.67 430.31 L340.85 428.46 L341.03 426.74 L341.22 425.16 L341.40 423.70 L341.58 422.39 L341.76 421.23 L341.94 420.21 L342.12 419.29 L342.31 418.47 L342.50 417.70 L342.70 417.01 L342.91 416.43 L343.12 415.93 L343.34 415.50 L343.56 415.13 L343.80 414.80 L344.04 414.51 L344.27 414.27 L344.51 414.09 L344.77 413.96 L345.07 413.90 L345.40 413.90 L345.79 414.01 L346.22 414.25 L346.68 414.54 L347.16 414.84 L347.64 415.08 L348.10 415.20 L348.55 415.20 L349.00 415.13 L349.44 414.99 L349.89 414.82 L350.34 414.62 L350.80 414.40 L351.26 414.15 L351.73 413.85 L352.20 413.52 L352.67 413.19 L353.14 412.87 L353.60 412.60 L354.06 412.35 L354.51 412.10 L354.96 411.87 L355.40 411.68 L355.85 411.55 L356.30 411.50 L356.75 411.54 L357.20 411.66 L357.65 411.83 L358.10 412.06 L358.55 412.32 L359.00 412.60 L359.45 412.92 L359.90 413.27 L360.35 413.67 L360.80 414.09 L361.25 414.54 L361.70 415.00 L362.16 415.49 L362.64 416.00 L363.12 416.54 L363.58 417.10 L364.01 417.65 L364.40 418.20 L364.73 418.72 L365.02 419.21 L365.28 419.71 L365.52 420.24 L365.76 420.83 L366.00 421.50 L366.25 422.25 L366.49 423.06 L366.73 423.93 L366.96 424.86 L367.19 425.85 L367.40 426.90 L367.60 428.00 L367.79 429.15 L367.97 430.36 L368.14 431.64 L368.32 433.02 L368.50 434.50 L368.69 436.13 L368.88 437.89 L369.07 439.75 L369.26 441.65 L369.43 443.55 L369.60 445.40 L369.75 447.20 L369.89 448.99 L370.03 450.78 L370.15 452.57 L370.28 454.38 L370.40 456.20 L370.51 457.71 L370.59 458.84 L370.67 459.98 L370.77 461.52 L370.91 463.86 L371.10 467.40 L371.36 472.55 L371.68 479.08 L372.03 486.41 L372.40 493.96 L372.76 501.15 L373.10 507.40 L373.42 512.71 L373.73 517.54 L374.03 522.02 L374.33 526.26 L374.62 530.38 L374.90 534.50 L375.17 538.71 L375.44 542.94 L375.70 547.04 L375.95 550.91 L376.18 554.40 L376.40 557.40 L376.59 559.77 L376.76 561.58 L376.92 563.02 L377.07 564.29 L377.23 565.55 L377.40 567.00 L377.58 568.61 L377.77 570.23 L377.97 571.85 L378.17 573.47 L378.38 575.09 L378.60 576.70 L378.83 578.30 L379.06 579.90 L379.31 581.50 L379.56 583.10 L379.82 584.70 L380.10 586.30 L380.39 587.93 L380.68 589.60 L380.98 591.27 L381.30 592.91 L381.64 594.50 L382.00 596.00 L382.39 597.43 L382.80 598.82 L383.24 600.16 L383.69 601.42 L384.14 602.61 L384.60 603.70 L385.06 604.69 L385.53 605.59 L386.00 606.40 L386.49 607.15 L386.98 607.84 L387.50 608.50 L388.03 609.11 L388.58 609.66 L389.14 610.15 L389.71 610.60 L390.30 611.01 L390.90 611.40 L391.50 611.75 L392.10 612.05 L392.71 612.31 L393.35 612.55 L394.04 612.78 L394.80 613.00 L395.63 613.22 L396.53 613.42 L397.47 613.61 L398.45 613.79 L399.47 613.95 L400.50 614.10 L401.56 614.23 L402.65 614.34 L403.78 614.44 L404.93 614.53 L406.10 614.61 L407.30 614.70 L404.20 614.79 L395.94 614.89 L387.70 615.80 L384.67 615.80 L392.05 615.80 L415.00 615.80 L461.43 615.80 L528.76 615.80 L606.48 615.80 L684.10 615.80 L751.11 615.80 L797.00 615.80" stroke="#ff3010"/>
<path d="M272.00 615.80 L272.86 615.80 L274.07 615.80 L275.49 615.80 L276.99 615.80 L278.40 615.80 L279.60 614.90 L280.59 614.81 L281.47 614.71 L282.29 614.60 L283.05 614.46 L283.78 614.30 L284.50 614.10 L285.20 613.88 L285.86 613.63 L286.49 613.36 L287.10 613.05 L287.70 612.70 L288.30 612.30 L288.90 611.86 L289.48 611.39 L290.06 610.87 L290.62 610.30 L291.17 609.68 L291.70 609.00 L292.22 608.26 L292.72 607.47 L293.21 606.63 L293.69 605.72 L294.15 604.75 L294.60 603.70 L295.04 602.58 L295.46 601.39 L295.88 600.12 L296.27 598.80 L296.65 597.43 L297.00 596.00 L297.33 594.50 L297.63 592.91 L297.91 591.27 L298.18 589.60 L298.44 587.93 L298.70 586.30 L298.95 584.70 L299.20 583.10 L299.43 581.50 L299.66 579.90 L299.88 578.30 L300.10 576.70 L300.31 575.09 L300.52 573.47 L300.73 571.85 L300.92 570.23 L301.11 568.61 L301.30 567.00 L301.48 565.55 L301.66 564.29 L301.83 563.02 L301.99 561.58 L302.15 559.77 L302.30 557.40 L302.44 554.40 L302.56 550.91 L302.68 547.04 L302.80 542.94 L302.94 538.71 L303.10 534.50 L303.28 530.38 L303.47 526.26 L303.68 522.02 L303.90 517.54 L304.14 512.71 L304.40 507.40 L304.70 501.21 L305.05 494.16 L305.41 486.74 L305.77 479.48 L306.11 472.86 L306.40 467.40 L306.64 463.28 L306.83 460.12 L307.01 457.62 L307.17 455.44 L307.33 453.28 L307.50 450.80 L307.68 448.00 L307.87 445.14 L308.06 442.29 L308.24 439.51 L308.42 436.89 L308.60 434.50 L308.77 432.34 L308.93 430.37 L309.08 428.56 L309.24 426.86 L309.41 425.25 L309.60 423.70 L309.80 422.20 L310.02 420.77 L310.24 419.43 L310.48 418.20 L310.73 417.08 L311.00 416.10 L311.28 415.28 L311.59 414.60 L311.90 414.04 L312.23 413.58 L312.56 413.17 L312.90 412.80 L313.24 412.48 L313.57 412.24 L313.92 412.06 L314.28 411.92 L314.67 411.81 L315.10 411.70 L315.57 411.61 L316.09 411.54 L316.63 411.50 L317.19 411.48 L317.75 411.48 L318.30 411.50 L318.85 411.53 L319.41 411.58 L319.98 411.65 L320.54 411.74 L321.08 411.86 L321.60 412.00 L322.09 412.19 L322.57 412.43 L323.03 412.70 L323.47 412.97 L323.89 413.21 L324.30 413.40 L324.68 413.55 L325.04 413.69 L325.38 413.79 L325.71 413.87 L326.05 413.91 L326.40 413.90 L326.76 413.83 L327.13 413.71 L327.49 413.54 L327.86 413.36 L328.23 413.17 L328.60 413.00 L328.97 412.81 L329.36 412.59 L329.74 412.36 L330.11 412.16 L330.47 412.03 L330.80 412.00 L331.11 412.07 L331.40 412.20 L331.67 412.40 L331.93 412.67 L332.17 413.00 L332.40 413.40 L332.61 413.86 L332.80 414.39 L332.98 414.98 L333.15 415.64 L333.32 416.38 L333.50 417.20 L333.68 418.05 L333.87 418.93 L334.05 419.88 L334.23 420.95 L334.42 422.21 L334.60 423.70 L334.79 425.48 L334.98 427.51 L335.17 429.73 L335.36 432.04 L335.53 434.39 L335.70 436.70 L335.85 438.96 L335.98 441.23 L336.11 443.53 L336.23 445.87 L336.36 448.29 L336.50 450.80 L336.65 453.15 L336.79 455.28 L336.94 457.48 L337.11 460.04 L337.29 463.25 L337.50 467.40 L337.75 472.86 L338.03 479.48 L338.33 486.74 L338.64 494.16 L338.93 501.21 L339.20 507.40 L339.44 512.71 L339.67 517.54 L339.88 522.02 L340.09 526.26 L340.29 530.38 L340.50 534.50 L340.71 538.71 L340.91 542.94 L341.12 547.04 L341.32 550.91 L341.51 554.40 L341.70 557.40 L341.88 559.77 L342.04 561.58 L342.20 563.02 L342.36 564.29 L342.52 565.55 L342.70 567.00 L342.89 568.61 L343.09 570.23 L343.29 571.85 L343.49 573.47 L343.70 575.09 L343.90 576.70 L344.09 578.30 L344.27 579.90 L344.46 581.50 L344.65 583.10 L344.86 584.70 L345.10 586.30 L345.37 587.95 L345.66 589.64 L345.97 591.33 L346.30 592.99 L346.64 594.56 L347.00 596.00 L347.38 597.31 L347.78 598.51 L348.19 599.63 L348.62 600.68 L349.06 601.70 L349.50 602.70 L349.94 603.68 L350.37 604.63 L350.81 605.54 L351.27 606.41 L351.77 607.23 L352.30 608.00 L352.88 608.72 L353.49 609.40 L354.13 610.02 L354.79 610.60 L355.49 611.13 L356.20 611.60 L356.94 612.00 L357.70 612.33 L358.48 612.61 L359.29 612.86 L360.13 613.08 L361.00 613.30 L361.90 613.51 L362.82 613.70 L363.77 613.87 L364.76 614.02 L365.76 614.16 L366.80 614.30 L367.82 614.43 L368.82 614.54 L369.85 614.64 L370.96 614.74 L372.19 614.82 L373.60 614.90 L375.04 615.80 L376.44 615.80 L377.98 615.80 L379.80 615.80 L382.09 615.80 L385.00 615.80 L389.03 615.80 L394.14 615.80 L399.71 615.80 L405.13 615.80 L409.76 615.80 L413.00 615.80" stroke="#2a10f5"/>
<path d="M27.00 615.80 L280.00 615.80 L280.00 615.80 L280.49 615.80 L281.16 615.80 L281.95 615.80 L282.81 615.80 L283.68 615.80 L284.50 614.90 L285.28 614.84 L286.08 614.78 L286.88 614.71 L287.69 614.64 L288.50 614.57 L289.30 614.50 L290.10 614.42 L290.90 614.35 L291.70 614.27 L292.50 614.19 L293.30 614.10 L294.10 614.00 L294.90 613.90 L295.70 613.79 L296.50 613.68 L297.30 613.56 L298.10 613.44 L298.90 613.30 L299.70 613.15 L300.50 612.99 L301.29 612.83 L302.09 612.65 L302.89 612.48 L303.70 612.30 L304.51 612.13 L305.33 611.97 L306.15 611.80 L306.97 611.62 L307.79 611.42 L308.60 611.20 L309.41 610.95 L310.21 610.67 L311.01 610.38 L311.80 610.07 L312.60 609.74 L313.40 609.40 L314.20 609.05 L315.00 608.68 L315.80 608.29 L316.60 607.89 L317.40 607.46 L318.20 607.00 L319.00 606.51 L319.80 605.99 L320.60 605.44 L321.40 604.88 L322.20 604.30 L323.00 603.70 L323.80 603.10 L324.60 602.50 L325.39 601.88 L326.19 601.23 L326.99 600.54 L327.80 599.80 L328.61 599.01 L329.43 598.17 L330.25 597.30 L331.07 596.39 L331.89 595.46 L332.70 594.50 L333.48 593.55 L334.24 592.61 L334.99 591.65 L335.76 590.62 L336.59 589.48 L337.50 588.20 L338.53 586.73 L339.66 585.09 L340.84 583.34 L342.03 581.55 L343.17 579.78 L344.20 578.10 L345.12 576.52 L345.97 574.99 L346.77 573.48 L347.54 571.97 L348.31 570.42 L349.10 568.80 L349.91 567.12 L350.71 565.41 L351.51 563.67 L352.30 561.89 L353.10 560.06 L353.90 558.20 L354.72 556.25 L355.56 554.22 L356.39 552.14 L357.21 550.08 L357.99 548.08 L358.70 546.20 L359.33 544.46 L359.89 542.83 L360.40 541.26 L360.90 539.71 L361.43 538.14 L362.00 536.50 L362.59 534.91 L363.17 533.43 L363.77 531.93 L364.42 530.28 L365.15 528.34 L366.00 526.00 L367.01 523.07 L368.18 519.63 L369.43 515.91 L370.69 512.14 L371.90 508.56 L373.00 505.40 L373.97 502.69 L374.87 500.26 L375.71 498.01 L376.53 495.86 L377.35 493.72 L378.20 491.50 L379.07 489.21 L379.94 486.91 L380.81 484.63 L381.68 482.37 L382.54 480.16 L383.40 478.00 L384.25 475.89 L385.11 473.81 L385.96 471.78 L386.79 469.80 L387.61 467.87 L388.40 466.00 L389.16 464.21 L389.89 462.48 L390.60 460.81 L391.30 459.19 L392.00 457.59 L392.70 456.00 L393.41 454.43 L394.11 452.90 L394.81 451.39 L395.50 449.90 L396.20 448.44 L396.90 447.00 L397.60 445.58 L398.30 444.17 L399.00 442.79 L399.70 441.44 L400.40 440.11 L401.10 438.80 L401.80 437.52 L402.50 436.26 L403.20 435.02 L403.90 433.81 L404.60 432.64 L405.30 431.50 L406.05 430.34 L406.86 429.15 L407.66 427.99 L408.41 426.94 L409.04 426.05 L409.50 425.40 L411.40 427.00 L411.82 426.62 L412.40 426.09 L413.08 425.46 L413.84 424.78 L414.62 424.08 L415.40 423.40 L416.19 422.73 L417.02 422.01 L417.89 421.29 L418.77 420.56 L419.64 419.86 L420.50 419.20 L421.34 418.57 L422.17 417.97 L423.00 417.38 L423.83 416.82 L424.66 416.29 L425.50 415.80 L426.34 415.34 L427.19 414.92 L428.04 414.53 L428.90 414.17 L429.75 413.82 L430.60 413.50 L431.45 413.19 L432.30 412.91 L433.16 412.64 L434.01 412.40 L434.86 412.19 L435.70 412.00 L436.54 411.84 L437.38 411.72 L438.22 411.62 L439.05 411.54 L439.88 411.47 L440.70 411.40 L441.45 411.33 L442.11 411.26 L442.77 411.21 L443.51 411.20 L444.39 411.20 L445.50 411.20 L446.83 411.25 L448.31 411.29 L449.95 411.37 L451.73 411.51 L453.65 411.74 L455.70 412.10 L457.95 412.59 L460.40 413.19 L462.99 413.88 L465.66 414.66 L468.31 415.50 L470.90 416.40 L473.42 417.37 L475.94 418.43 L478.45 419.55 L480.96 420.73 L483.48 421.95 L486.00 423.20 L488.53 424.49 L491.06 425.83 L493.59 427.22 L496.13 428.63 L498.67 430.06 L501.20 431.50 L503.73 432.94 L506.27 434.40 L508.80 435.87 L511.33 437.36 L513.87 438.87 L516.40 440.40 L518.93 441.96 L521.47 443.56 L524.00 445.17 L526.53 446.79 L529.07 448.40 L531.60 450.00 L534.13 451.57 L536.67 453.12 L539.20 454.67 L541.73 456.22 L544.27 457.80 L546.80 459.40 L549.33 461.04 L551.87 462.71 L554.41 464.41 L556.94 466.11 L559.47 467.81 L562.00 469.50 L564.52 471.18 L567.04 472.87 L569.55 474.55 L572.06 476.23 L574.58 477.92 L577.10 479.60 L579.66 481.30 L582.27 483.02 L584.87 484.74 L587.44 486.44 L589.93 488.10 L592.30 489.70 L594.66 491.32 L597.07 493.00 L599.40 494.63 L601.52 496.13 L603.30 497.38 L604.60 498.30 L604.60 498.30 L699.70 554.30 L797.00 594.20" stroke="#ffa510"/>
</g>
<path d="M26.40 615.20H797.60" stroke="#000" stroke-width="1.6"/>
<g fill="none" stroke="#000" stroke-width="1.35">
<rect x="27.00" y="615.20" width="770.00" height="203.70"/>
<path d="M27.00 615.20v3.90 M27.00 818.90v-3.90 M46.25 615.20v2.00 M46.25 818.90v-2.00 M65.50 615.20v2.00 M65.50 818.90v-2.00 M84.75 615.20v2.00 M84.75 818.90v-2.00 M104.00 615.20v2.00 M104.00 818.90v-2.00 M123.25 615.20v2.00 M123.25 818.90v-2.00 M142.50 615.20v2.00 M142.50 818.90v-2.00 M161.75 615.20v2.00 M161.75 818.90v-2.00 M181.00 615.20v2.00 M181.00 818.90v-2.00 M200.25 615.20v2.00 M200.25 818.90v-2.00 M219.50 615.20v3.90 M219.50 818.90v-3.90 M238.75 615.20v2.00 M238.75 818.90v-2.00 M258.00 615.20v2.00 M258.00 818.90v-2.00 M277.25 615.20v2.00 M277.25 818.90v-2.00 M296.50 615.20v2.00 M296.50 818.90v-2.00 M315.75 615.20v2.00 M315.75 818.90v-2.00 M335.00 615.20v2.00 M335.00 818.90v-2.00 M354.25 615.20v2.00 M354.25 818.90v-2.00 M373.50 615.20v2.00 M373.50 818.90v-2.00 M392.75 615.20v2.00 M392.75 818.90v-2.00 M412.00 615.20v3.90 M412.00 818.90v-3.90 M431.25 615.20v2.00 M431.25 818.90v-2.00 M450.50 615.20v2.00 M450.50 818.90v-2.00 M469.75 615.20v2.00 M469.75 818.90v-2.00 M489.00 615.20v2.00 M489.00 818.90v-2.00 M508.25 615.20v2.00 M508.25 818.90v-2.00 M527.50 615.20v2.00 M527.50 818.90v-2.00 M546.75 615.20v2.00 M546.75 818.90v-2.00 M566.00 615.20v2.00 M566.00 818.90v-2.00 M585.25 615.20v2.00 M585.25 818.90v-2.00 M604.50 615.20v3.90 M604.50 818.90v-3.90 M623.75 615.20v2.00 M623.75 818.90v-2.00 M643.00 615.20v2.00 M643.00 818.90v-2.00 M662.25 615.20v2.00 M662.25 818.90v-2.00 M681.50 615.20v2.00 M681.50 818.90v-2.00 M700.75 615.20v2.00 M700.75 818.90v-2.00 M720.00 615.20v2.00 M720.00 818.90v-2.00 M739.25 615.20v2.00 M739.25 818.90v-2.00 M758.50 615.20v2.00 M758.50 818.90v-2.00 M777.75 615.20v2.00 M777.75 818.90v-2.00 M797.00 615.20v3.90 M797.00 818.90v-3.90"/>
</g>
<path clip-path="url(#c3)" d="M27.00 815.59 L28.88 814.34 L32.73 811.99 L36.58 810.11 L40.43 808.07 L44.28 806.51 L48.13 809.95 L51.98 807.29 L55.83 807.76 L59.68 817.16 L63.53 817.47 L67.38 817.00 L71.23 817.78 L75.08 817.16 L78.93 816.22 L82.78 815.43 L86.63 814.34 L90.48 811.99 L94.33 811.20 L98.18 815.43 L102.03 814.34 L105.88 809.64 L109.73 808.86 L113.58 809.95 L117.43 804.47 L121.28 811.99 L125.13 806.98 L128.98 806.51 L132.83 808.39 L136.68 806.98 L140.53 805.41 L144.38 809.17 L148.23 807.29 L152.08 810.89 L155.93 811.99 L159.78 815.43 L163.63 814.34 L167.48 815.90 L171.33 815.59 L175.18 813.87 L179.03 813.87 L182.88 815.12 L186.73 812.77 L190.58 810.11 L194.43 811.52 L198.28 812.77 L202.13 808.07 L205.98 809.64 L209.83 806.82 L213.68 801.34 L217.53 798.67 L221.38 792.41 L225.23 774.40 L229.08 779.88 L232.93 813.87 L236.78 808.86 L240.63 814.34 L244.48 812.46 L248.33 816.22 L252.18 815.12 L256.03 810.42 L259.88 813.55 L263.73 809.33 L267.58 799.93 L271.43 796.80 L275.28 788.49 L279.13 773.30 L282.98 764.22 L286.83 750.90 L290.68 725.84 L294.53 699.28 L298.38 700.53 L302.23 674.22 L306.08 668.42 L309.93 663.25 L313.78 648.37 L317.63 635.84 L321.48 643.36 L325.33 640.07 L329.18 647.90 L333.03 729.82 L336.88 772.05 L340.73 778.31 L344.58 786.93 L348.43 805.25 L352.28 802.59 L356.13 804.47 L359.98 790.06 L363.83 783.48 L367.68 801.02 L371.53 783.80 L375.38 767.53 L379.23 772.54 L383.08 773.48 L386.93 765.96 L390.78 749.52 L394.63 755.78 L398.48 744.82 L402.33 748.27 L406.18 708.36 L410.03 711.49 L413.88 717.76 L417.73 682.83 L421.58 686.43 L425.43 669.20 L429.28 655.42 L433.13 645.24 L436.98 619.40 L440.83 602.17 L444.68 623.31 L448.53 685.18 L452.38 678.13 L456.23 675.78 L460.08 671.08 L463.93 654.64 L467.78 700.84 L471.63 716.98 L475.48 707.42 L479.33 693.48 L483.18 688.31 L487.03 702.10 L490.88 681.27 L494.73 707.11 L498.58 758.13 L502.43 768.00 L506.28 768.00 L510.13 756.57 L513.98 744.04 L517.83 726.22 L521.68 724.34 L525.53 711.81 L529.38 705.07 L533.23 707.11 L537.08 712.12 L540.93 685.49 L544.78 686.43 L548.63 671.40 L552.48 682.05 L556.33 655.42 L560.18 631.46 L564.03 636.94 L567.88 634.75 L571.73 636.94 L575.58 628.01 L579.43 711.81 L583.28 733.73 L587.13 718.86 L590.98 703.98 L594.83 704.45 L598.68 694.58 L602.53 683.61 L606.38 673.90 L610.23 665.13 L614.08 673.43 L617.93 658.24 L621.78 633.49 L625.63 629.58 L629.48 611.57 L633.33 605.30 L637.18 587.29 L641.03 624.88 L644.88 616.27 L648.73 652.60 L652.58 652.29 L656.43 691.92 L660.28 690.35 L664.13 699.59 L667.98 667.17 L671.83 633.49 L675.68 656.20 L679.53 646.34 L683.38 651.51 L687.23 623.63 L691.08 661.37 L694.93 625.66 L698.78 592.77 L702.63 605.30 L706.48 607.65 L710.33 618.61 L714.18 607.65 L718.03 612.51 L721.88 616.73 L725.73 620.96 L729.58 660.43 L733.43 631.93 L737.28 603.11 L741.13 605.30 L744.98 606.55 L748.83 623.78 L752.68 603.58 L756.53 605.30 L760.38 601.54 L764.23 631.14 L768.08 622.53 L771.93 620.96 L775.78 606.08 L779.63 695.83 L783.48 705.54 L787.33 651.19 L791.18 655.89 L795.03 673.90 L797.00 670.30" fill="none" stroke="#000" stroke-width="1.35" stroke-linejoin="round"/>
<g fill="none" stroke-width="1.3" stroke-linejoin="round">
<path d="M303.00 818.80 L303.85 818.76 L305.04 818.70 L306.45 818.64 L307.92 818.56 L309.32 818.48 L310.50 818.40 L311.47 818.32 L312.33 818.23 L313.12 818.14 L313.87 818.04 L314.58 817.93 L315.30 817.80 L316.01 817.66 L316.69 817.52 L317.34 817.37 L317.98 817.20 L318.60 817.01 L319.20 816.80 L319.79 816.57 L320.36 816.33 L320.91 816.07 L321.45 815.78 L321.98 815.46 L322.50 815.10 L323.01 814.71 L323.51 814.29 L324.01 813.84 L324.49 813.35 L324.95 812.81 L325.40 812.20 L325.83 811.54 L326.24 810.85 L326.64 810.10 L327.03 809.29 L327.42 808.39 L327.80 807.40 L328.19 806.31 L328.57 805.12 L328.96 803.86 L329.33 802.52 L329.68 801.13 L330.00 799.70 L330.29 798.20 L330.56 796.61 L330.81 794.97 L331.05 793.30 L331.28 791.63 L331.50 790.00 L331.72 788.40 L331.93 786.80 L332.14 785.20 L332.33 783.60 L332.52 782.00 L332.70 780.40 L332.87 778.79 L333.02 777.17 L333.16 775.55 L333.30 773.93 L333.45 772.31 L333.60 770.70 L333.76 769.25 L333.93 767.99 L334.10 766.73 L334.27 765.28 L334.44 763.47 L334.60 761.10 L334.75 758.10 L334.90 754.61 L335.04 750.74 L335.19 746.64 L335.34 742.41 L335.50 738.20 L335.66 734.08 L335.83 729.96 L335.99 725.72 L336.17 721.24 L336.37 716.41 L336.60 711.10 L336.87 704.91 L337.19 697.86 L337.52 690.44 L337.85 683.18 L338.15 676.56 L338.40 671.10 L338.59 666.98 L338.73 663.82 L338.84 661.32 L338.95 659.14 L339.06 656.98 L339.20 654.50 L339.37 651.70 L339.54 648.84 L339.73 645.99 L339.92 643.21 L340.11 640.59 L340.30 638.20 L340.48 636.03 L340.67 634.01 L340.85 632.16 L341.03 630.44 L341.22 628.86 L341.40 627.40 L341.58 626.09 L341.76 624.93 L341.94 623.91 L342.12 622.99 L342.31 622.17 L342.50 621.40 L342.70 620.71 L342.91 620.13 L343.12 619.63 L343.34 619.20 L343.56 618.83 L343.80 618.50 L344.04 618.21 L344.27 617.97 L344.51 617.79 L344.77 617.66 L345.07 617.60 L345.40 617.60 L345.79 617.71 L346.22 617.95 L346.68 618.24 L347.16 618.54 L347.64 618.78 L348.10 618.90 L348.55 618.90 L349.00 618.83 L349.44 618.69 L349.89 618.52 L350.34 618.32 L350.80 618.10 L351.26 617.85 L351.73 617.55 L352.20 617.22 L352.67 616.89 L353.14 616.57 L353.60 616.30 L354.06 616.05 L354.51 615.80 L354.96 615.57 L355.40 615.38 L355.85 615.25 L356.30 615.20 L356.75 615.24 L357.20 615.36 L357.65 615.53 L358.10 615.76 L358.55 616.02 L359.00 616.30 L359.45 616.62 L359.90 616.97 L360.35 617.37 L360.80 617.79 L361.25 618.24 L361.70 618.70 L362.16 619.19 L362.64 619.70 L363.12 620.24 L363.58 620.80 L364.01 621.35 L364.40 621.90 L364.73 622.42 L365.02 622.91 L365.28 623.41 L365.52 623.94 L365.76 624.53 L366.00 625.20 L366.25 625.95 L366.49 626.76 L366.73 627.63 L366.96 628.56 L367.19 629.55 L367.40 630.60 L367.60 631.70 L367.79 632.85 L367.97 634.06 L368.14 635.34 L368.32 636.72 L368.50 638.20 L368.69 639.83 L368.88 641.59 L369.07 643.45 L369.26 645.35 L369.43 647.25 L369.60 649.10 L369.75 650.90 L369.89 652.69 L370.03 654.48 L370.15 656.27 L370.28 658.08 L370.40 659.90 L370.51 661.41 L370.59 662.54 L370.67 663.68 L370.77 665.22 L370.91 667.56 L371.10 671.10 L371.36 676.25 L371.68 682.78 L372.03 690.11 L372.40 697.66 L372.76 704.85 L373.10 711.10 L373.42 716.41 L373.73 721.24 L374.03 725.72 L374.33 729.96 L374.62 734.08 L374.90 738.20 L375.17 742.41 L375.44 746.64 L375.70 750.74 L375.95 754.61 L376.18 758.10 L376.40 761.10 L376.59 763.47 L376.76 765.28 L376.92 766.73 L377.07 767.99 L377.23 769.25 L377.40 770.70 L377.58 772.31 L377.77 773.93 L377.97 775.55 L378.17 777.17 L378.38 778.79 L378.60 780.40 L378.83 782.00 L379.06 783.60 L379.31 785.20 L379.56 786.80 L379.82 788.40 L380.10 790.00 L380.39 791.63 L380.68 793.30 L380.98 794.97 L381.30 796.61 L381.64 798.20 L382.00 799.70 L382.39 801.13 L382.80 802.52 L383.24 803.86 L383.69 805.12 L384.14 806.31 L384.60 807.40 L385.06 808.39 L385.53 809.29 L386.00 810.10 L386.49 810.85 L386.98 811.54 L387.50 812.20 L388.03 812.81 L388.58 813.36 L389.14 813.85 L389.71 814.30 L390.30 814.71 L390.90 815.10 L391.50 815.45 L392.10 815.75 L392.71 816.01 L393.35 816.25 L394.04 816.48 L394.80 816.70 L395.63 816.92 L396.53 817.12 L397.47 817.31 L398.45 817.49 L399.47 817.65 L400.50 817.80 L401.56 817.93 L402.65 818.04 L403.78 818.14 L404.93 818.23 L406.10 818.31 L407.30 818.40 L404.20 818.49 L395.94 818.59 L387.70 818.69 L384.67 818.77 L392.05 818.85 L415.00 818.90 L461.43 818.90 L528.76 818.90 L606.48 818.90 L684.10 818.90 L751.11 818.90 L797.00 818.90" stroke="#ff3010"/>
<path d="M272.00 818.80 L272.86 818.79 L274.07 818.77 L275.49 818.75 L276.99 818.72 L278.40 818.67 L279.60 818.60 L280.59 818.51 L281.47 818.41 L282.29 818.30 L283.05 818.16 L283.78 818.00 L284.50 817.80 L285.20 817.58 L285.86 817.33 L286.49 817.06 L287.10 816.75 L287.70 816.40 L288.30 816.00 L288.90 815.56 L289.48 815.09 L290.06 814.57 L290.62 814.00 L291.17 813.38 L291.70 812.70 L292.22 811.96 L292.72 811.17 L293.21 810.33 L293.69 809.42 L294.15 808.45 L294.60 807.40 L295.04 806.28 L295.46 805.09 L295.88 803.83 L296.27 802.50 L296.65 801.13 L297.00 799.70 L297.33 798.20 L297.63 796.61 L297.91 794.97 L298.18 793.30 L298.44 791.63 L298.70 790.00 L298.95 788.40 L299.20 786.80 L299.43 785.20 L299.66 783.60 L299.88 782.00 L300.10 780.40 L300.31 778.79 L300.52 777.17 L300.73 775.55 L300.92 773.93 L301.11 772.31 L301.30 770.70 L301.48 769.25 L301.66 767.99 L301.83 766.73 L301.99 765.28 L302.15 763.47 L302.30 761.10 L302.44 758.10 L302.56 754.61 L302.68 750.74 L302.80 746.64 L302.94 742.41 L303.10 738.20 L303.28 734.08 L303.47 729.96 L303.68 725.72 L303.90 721.24 L304.14 716.41 L304.40 711.10 L304.70 704.91 L305.05 697.86 L305.41 690.44 L305.77 683.18 L306.11 676.56 L306.40 671.10 L306.64 666.98 L306.83 663.82 L307.01 661.32 L307.17 659.14 L307.33 656.98 L307.50 654.50 L307.68 651.70 L307.87 648.84 L308.06 645.99 L308.24 643.21 L308.42 640.59 L308.60 638.20 L308.77 636.04 L308.93 634.07 L309.08 632.26 L309.24 630.56 L309.41 628.95 L309.60 627.40 L309.80 625.90 L310.02 624.47 L310.24 623.13 L310.48 621.90 L310.73 620.78 L311.00 619.80 L311.28 618.98 L311.59 618.30 L311.90 617.74 L312.23 617.28 L312.56 616.87 L312.90 616.50 L313.24 616.18 L313.57 615.94 L313.92 615.76 L314.28 615.62 L314.67 615.51 L315.10 615.40 L315.57 615.31 L316.09 615.24 L316.63 615.20 L317.19 615.18 L317.75 615.18 L318.30 615.20 L318.85 615.23 L319.41 615.28 L319.98 615.35 L320.54 615.44 L321.08 615.56 L321.60 615.70 L322.09 615.89 L322.57 616.13 L323.03 616.40 L323.47 616.67 L323.89 616.91 L324.30 617.10 L324.68 617.25 L325.04 617.39 L325.38 617.49 L325.71 617.57 L326.05 617.61 L326.40 617.60 L326.76 617.53 L327.13 617.41 L327.49 617.24 L327.86 617.06 L328.23 616.87 L328.60 616.70 L328.97 616.51 L329.36 616.29 L329.74 616.06 L330.11 615.86 L330.47 615.73 L330.80 615.70 L331.11 615.77 L331.40 615.90 L331.67 616.10 L331.93 616.37 L332.17 616.70 L332.40 617.10 L332.61 617.56 L332.80 618.09 L332.98 618.68 L333.15 619.34 L333.32 620.08 L333.50 620.90 L333.68 621.75 L333.87 622.63 L334.05 623.58 L334.23 624.65 L334.42 625.91 L334.60 627.40 L334.79 629.18 L334.98 631.21 L335.17 633.43 L335.36 635.74 L335.53 638.09 L335.70 640.40 L335.85 642.66 L335.98 644.93 L336.11 647.23 L336.23 649.57 L336.36 651.99 L336.50 654.50 L336.65 656.85 L336.79 658.98 L336.94 661.18 L337.11 663.74 L337.29 666.95 L337.50 671.10 L337.75 676.56 L338.03 683.18 L338.33 690.44 L338.64 697.86 L338.93 704.91 L339.20 711.10 L339.44 716.41 L339.67 721.24 L339.88 725.72 L340.09 729.96 L340.29 734.08 L340.50 738.20 L340.71 742.41 L340.91 746.64 L341.12 750.74 L341.32 754.61 L341.51 758.10 L341.70 761.10 L341.88 763.47 L342.04 765.28 L342.20 766.73 L342.36 767.99 L342.52 769.25 L342.70 770.70 L342.89 772.31 L343.09 773.93 L343.29 775.55 L343.49 777.17 L343.70 778.79 L343.90 780.40 L344.09 782.00 L344.27 783.60 L344.46 785.20 L344.65 786.80 L344.86 788.40 L345.10 790.00 L345.37 791.65 L345.66 793.34 L345.97 795.03 L346.30 796.69 L346.64 798.26 L347.00 799.70 L347.38 801.01 L347.78 802.21 L348.19 803.33 L348.62 804.38 L349.06 805.40 L349.50 806.40 L349.94 807.38 L350.37 808.33 L350.81 809.24 L351.27 810.11 L351.77 810.93 L352.30 811.70 L352.88 812.42 L353.49 813.10 L354.13 813.73 L354.79 814.30 L355.49 814.83 L356.20 815.30 L356.94 815.70 L357.70 816.03 L358.48 816.31 L359.29 816.56 L360.13 816.78 L361.00 817.00 L361.90 817.21 L362.82 817.40 L363.77 817.57 L364.76 817.72 L365.76 817.86 L366.80 818.00 L367.82 818.13 L368.82 818.24 L369.85 818.34 L370.96 818.44 L372.19 818.52 L373.60 818.60 L375.04 818.67 L376.44 818.73 L377.98 818.79 L379.80 818.83 L382.09 818.87 L385.00 818.90 L389.03 818.90 L394.14 818.90 L399.71 818.90 L405.13 818.90 L409.76 818.90 L413.00 818.90" stroke="#2a10f5"/>
<path d="M27.00 818.90 L280.00 818.90 L280.00 818.90 L280.49 818.87 L281.16 818.83 L281.95 818.78 L282.81 818.72 L283.68 818.66 L284.50 818.60 L285.28 818.54 L286.08 818.48 L286.88 818.41 L287.69 818.34 L288.50 818.27 L289.30 818.20 L290.10 818.12 L290.90 818.05 L291.70 817.97 L292.50 817.89 L293.30 817.80 L294.10 817.70 L294.90 817.60 L295.70 817.49 L296.50 817.38 L297.30 817.26 L298.10 817.14 L298.90 817.00 L299.70 816.85 L300.50 816.69 L301.29 816.53 L302.09 816.35 L302.89 816.18 L303.70 816.00 L304.51 815.83 L305.33 815.67 L306.15 815.50 L306.97 815.32 L307.79 815.12 L308.60 814.90 L309.41 814.65 L310.21 814.37 L311.01 814.08 L311.80 813.77 L312.60 813.44 L313.40 813.10 L314.20 812.75 L315.00 812.38 L315.80 811.99 L316.60 811.59 L317.40 811.16 L318.20 810.70 L319.00 810.21 L319.80 809.69 L320.60 809.14 L321.40 808.58 L322.20 808.00 L323.00 807.40 L323.80 806.80 L324.60 806.20 L325.39 805.58 L326.19 804.93 L326.99 804.24 L327.80 803.50 L328.61 802.71 L329.43 801.87 L330.25 801.00 L331.07 800.09 L331.89 799.16 L332.70 798.20 L333.48 797.25 L334.24 796.31 L334.99 795.35 L335.76 794.32 L336.59 793.18 L337.50 791.90 L338.53 790.43 L339.66 788.79 L340.84 787.04 L342.03 785.25 L343.17 783.48 L344.20 781.80 L345.12 780.22 L345.97 778.69 L346.77 777.18 L347.54 775.67 L348.31 774.12 L349.10 772.50 L349.91 770.82 L350.71 769.11 L351.51 767.37 L352.30 765.59 L353.10 763.76 L353.90 761.90 L354.72 759.95 L355.56 757.92 L356.39 755.84 L357.21 753.78 L357.99 751.78 L358.70 749.90 L359.33 748.16 L359.89 746.53 L360.40 744.96 L360.90 743.41 L361.43 741.84 L362.00 740.20 L362.59 738.61 L363.17 737.13 L363.77 735.63 L364.42 733.98 L365.15 732.04 L366.00 729.70 L367.01 726.77 L368.18 723.33 L369.43 719.61 L370.69 715.84 L371.90 712.26 L373.00 709.10 L373.97 706.39 L374.87 703.96 L375.71 701.71 L376.53 699.56 L377.35 697.42 L378.20 695.20 L379.07 692.91 L379.94 690.61 L380.81 688.33 L381.68 686.07 L382.54 683.86 L383.40 681.70 L384.25 679.59 L385.11 677.51 L385.96 675.48 L386.79 673.50 L387.61 671.57 L388.40 669.70 L389.16 667.91 L389.89 666.18 L390.60 664.51 L391.30 662.89 L392.00 661.29 L392.70 659.70 L393.41 658.13 L394.11 656.60 L394.81 655.09 L395.50 653.60 L396.20 652.14 L396.90 650.70 L397.60 649.28 L398.30 647.87 L399.00 646.49 L399.70 645.14 L400.40 643.81 L401.10 642.50 L401.80 641.22 L402.50 639.96 L403.20 638.72 L403.90 637.51 L404.60 636.34 L405.30 635.20 L406.05 634.04 L406.86 632.85 L407.66 631.69 L408.41 630.64 L409.04 629.75 L409.50 629.10 L411.40 630.70 L411.82 630.32 L412.40 629.79 L413.08 629.16 L413.84 628.48 L414.62 627.78 L415.40 627.10 L416.19 626.43 L417.02 625.71 L417.89 624.99 L418.77 624.26 L419.64 623.56 L420.50 622.90 L421.34 622.27 L422.17 621.67 L423.00 621.08 L423.83 620.52 L424.66 619.99 L425.50 619.50 L426.34 619.04 L427.19 618.62 L428.04 618.23 L428.90 617.87 L429.75 617.52 L430.60 617.20 L431.45 616.89 L432.30 616.61 L433.16 616.34 L434.01 616.10 L434.86 615.89 L435.70 615.70 L436.54 615.54 L437.38 615.42 L438.22 615.32 L439.05 615.24 L439.88 615.17 L440.70 615.10 L441.45 615.03 L442.11 614.96 L442.77 614.91 L443.51 614.90 L444.39 614.90 L445.50 614.90 L446.83 614.95 L448.31 614.99 L449.95 615.07 L451.73 615.21 L453.65 615.44 L455.70 615.80 L457.95 616.29 L460.40 616.89 L462.99 617.58 L465.66 618.36 L468.31 619.20 L470.90 620.10 L473.42 621.07 L475.94 622.13 L478.45 623.25 L480.96 624.43 L483.48 625.65 L486.00 626.90 L488.53 628.19 L491.06 629.53 L493.59 630.92 L496.13 632.33 L498.67 633.76 L501.20 635.20 L503.73 636.64 L506.27 638.10 L508.80 639.57 L511.33 641.06 L513.87 642.57 L516.40 644.10 L518.93 645.66 L521.47 647.26 L524.00 648.87 L526.53 650.49 L529.07 652.10 L531.60 653.70 L534.13 655.27 L536.67 656.82 L539.20 658.37 L541.73 659.92 L544.27 661.50 L546.80 663.10 L549.33 664.74 L551.87 666.41 L554.41 668.11 L556.94 669.81 L559.47 671.51 L562.00 673.20 L564.52 674.88 L567.04 676.57 L569.55 678.25 L572.06 679.93 L574.58 681.62 L577.10 683.30 L579.66 685.00 L582.27 686.72 L584.87 688.44 L587.44 690.14 L589.93 691.80 L592.30 693.40 L594.66 695.02 L597.07 696.70 L599.40 698.33 L601.52 699.83 L603.30 701.08 L604.60 702.00 L604.60 702.00 L699.70 758.00 L797.00 797.90" stroke="#ffa510"/>
</g>
<path d="M413.00 818.90H797.00" stroke="#ff3010" stroke-width="1.6"/>
<path d="M354.00 818.90H413.00" stroke="#2a10f5" stroke-width="1.6"/>
<path d="M27.00 818.90H297.00" stroke="#ff9c08" stroke-width="1.6"/>
<path d="M71.60 25.80 L71.60 44.80 M65.27 25.80 L77.94 25.80 M105.24 34.39 L121.17 34.39 M105.24 39.73 L121.17 39.73 M136.19 25.80 L127.15 38.47 L140.72 38.47 M136.19 25.80 L136.19 44.80 M150.68 25.80 L147.96 26.70 L146.15 29.42 L145.25 33.94 L145.25 36.66 L146.15 41.18 L147.96 43.90 L150.68 44.80 L152.49 44.80 L155.20 43.90 L157.01 41.18 L157.91 36.66 L157.91 33.94 L157.01 29.42 L155.20 26.70 L152.49 25.80 L150.68 25.80 M168.78 25.80 L166.06 26.70 L164.25 29.42 L163.34 33.94 L163.34 36.66 L164.25 41.18 L166.06 43.90 L168.78 44.80 L170.59 44.80 L173.30 43.90 L175.11 41.18 L176.01 36.66 L176.01 33.94 L175.11 29.42 L173.30 26.70 L170.59 25.80 L168.78 25.80 M186.88 25.80 L184.16 26.70 L182.35 29.42 L181.44 33.94 L181.44 36.66 L182.35 41.18 L184.16 43.90 L186.88 44.80 L188.69 44.80 L191.40 43.90 L193.21 41.18 L194.11 36.66 L194.11 33.94 L193.21 29.42 L191.40 26.70 L188.69 25.80 L186.88 25.80 M214.93 25.80 L214.93 44.80 M227.60 25.80 L214.93 38.47 M219.45 33.94 L227.60 44.80" fill="none" stroke="#000" stroke-width="1.3" stroke-linejoin="round" stroke-linecap="butt"/>
<path d="M80.64 54.43 L87.42 54.43 L87.42 53.30 L86.86 52.17 L86.30 51.61 L85.17 51.04 L83.47 51.04 L82.34 51.61 L81.21 52.73 L80.64 54.43 L80.64 55.56 L81.21 57.26 L82.34 58.39 L83.47 58.95 L85.17 58.95 L86.30 58.39 L87.42 57.26 M94.77 47.09 L93.64 47.09 L92.51 47.65 L91.95 49.35 L91.95 58.95 M90.25 51.04 L94.20 51.04 M101.55 47.09 L100.42 47.09 L99.29 47.65 L98.73 49.35 L98.73 58.95 M97.03 51.04 L100.98 51.04" fill="none" stroke="#000" stroke-width="1.2" stroke-linejoin="round" stroke-linecap="butt"/>
<path d="M71.60 229.50 L71.60 248.50 M65.27 229.50 L77.94 229.50 M105.24 238.09 L121.17 238.09 M105.24 243.43 L121.17 243.43 M128.96 229.50 L138.91 229.50 L133.48 236.74 L136.19 236.74 L138.00 237.64 L138.91 238.54 L139.81 241.26 L139.81 243.07 L138.91 245.78 L137.10 247.59 L134.39 248.50 L131.67 248.50 L128.96 247.59 L128.05 246.69 L127.15 244.88 M154.30 229.50 L145.25 242.16 L158.82 242.16 M154.30 229.50 L154.30 248.50 M168.78 229.50 L166.06 230.40 L164.25 233.12 L163.34 237.64 L163.34 240.35 L164.25 244.88 L166.06 247.59 L168.78 248.50 L170.59 248.50 L173.30 247.59 L175.11 244.88 L176.01 240.35 L176.01 237.64 L175.11 233.12 L173.30 230.40 L170.59 229.50 L168.78 229.50 M186.88 229.50 L184.16 230.40 L182.35 233.12 L181.44 237.64 L181.44 240.35 L182.35 244.88 L184.16 247.59 L186.88 248.50 L188.69 248.50 L191.40 247.59 L193.21 244.88 L194.11 240.35 L194.11 237.64 L193.21 233.12 L191.40 230.40 L188.69 229.50 L186.88 229.50 M214.93 229.50 L214.93 248.50 M227.60 229.50 L214.93 242.16 M219.45 237.64 L227.60 248.50" fill="none" stroke="#000" stroke-width="1.3" stroke-linejoin="round" stroke-linecap="butt"/>
<path d="M80.64 258.13 L87.42 258.13 L87.42 257.00 L86.86 255.87 L86.30 255.30 L85.17 254.74 L83.47 254.74 L82.34 255.30 L81.21 256.44 L80.64 258.13 L80.64 259.26 L81.21 260.95 L82.34 262.08 L83.47 262.65 L85.17 262.65 L86.30 262.08 L87.42 260.95 M94.77 250.78 L93.64 250.78 L92.51 251.35 L91.95 253.04 L91.95 262.65 M90.25 254.74 L94.20 254.74 M101.55 250.78 L100.42 250.78 L99.29 251.35 L98.73 253.04 L98.73 262.65 M97.03 254.74 L100.98 254.74" fill="none" stroke="#000" stroke-width="1.2" stroke-linejoin="round" stroke-linecap="butt"/>
<path d="M71.60 433.19 L71.60 452.20 M65.27 433.19 L77.94 433.19 M105.24 441.79 L121.17 441.79 M105.24 447.13 L121.17 447.13 M128.96 433.19 L138.91 433.19 L133.48 440.44 L136.19 440.44 L138.00 441.34 L138.91 442.25 L139.81 444.96 L139.81 446.77 L138.91 449.49 L137.10 451.30 L134.39 452.20 L131.67 452.20 L128.96 451.30 L128.05 450.39 L127.15 448.58 M150.68 433.19 L147.96 434.10 L146.15 436.81 L145.25 441.34 L145.25 444.06 L146.15 448.58 L147.96 451.30 L150.68 452.20 L152.49 452.20 L155.20 451.30 L157.01 448.58 L157.91 444.06 L157.91 441.34 L157.01 436.81 L155.20 434.10 L152.49 433.19 L150.68 433.19 M168.78 433.19 L166.06 434.10 L164.25 436.81 L163.34 441.34 L163.34 444.06 L164.25 448.58 L166.06 451.30 L168.78 452.20 L170.59 452.20 L173.30 451.30 L175.11 448.58 L176.01 444.06 L176.01 441.34 L175.11 436.81 L173.30 434.10 L170.59 433.19 L168.78 433.19 M186.88 433.19 L184.16 434.10 L182.35 436.81 L181.44 441.34 L181.44 444.06 L182.35 448.58 L184.16 451.30 L186.88 452.20 L188.69 452.20 L191.40 451.30 L193.21 448.58 L194.11 444.06 L194.11 441.34 L193.21 436.81 L191.40 434.10 L188.69 433.19 L186.88 433.19 M214.93 433.19 L214.93 452.20 M227.60 433.19 L214.93 445.87 M219.45 441.34 L227.60 452.20" fill="none" stroke="#000" stroke-width="1.3" stroke-linejoin="round" stroke-linecap="butt"/>
<path d="M80.64 461.83 L87.42 461.83 L87.42 460.70 L86.86 459.57 L86.30 459.00 L85.17 458.44 L83.47 458.44 L82.34 459.00 L81.21 460.13 L80.64 461.83 L80.64 462.96 L81.21 464.65 L82.34 465.78 L83.47 466.35 L85.17 466.35 L86.30 465.78 L87.42 464.65 M94.77 454.48 L93.64 454.48 L92.51 455.05 L91.95 456.74 L91.95 466.35 M90.25 458.44 L94.20 458.44 M101.55 454.48 L100.42 454.48 L99.29 455.05 L98.73 456.74 L98.73 466.35 M97.03 458.44 L100.98 458.44" fill="none" stroke="#000" stroke-width="1.2" stroke-linejoin="round" stroke-linecap="butt"/>
<path d="M71.60 636.90 L71.60 655.90 M65.27 636.90 L77.94 636.90 M105.24 645.49 L121.17 645.49 M105.24 650.83 L121.17 650.83 M128.05 641.42 L128.05 640.52 L128.96 638.71 L129.86 637.80 L131.67 636.90 L135.29 636.90 L137.10 637.80 L138.00 638.71 L138.91 640.52 L138.91 642.33 L138.00 644.14 L136.19 646.85 L127.15 655.90 L139.81 655.90 M156.10 636.90 L147.06 636.90 L146.15 645.04 L147.06 644.14 L149.77 643.23 L152.49 643.23 L155.20 644.14 L157.01 645.95 L157.91 648.66 L157.91 650.47 L157.01 653.19 L155.20 655.00 L152.49 655.90 L149.77 655.90 L147.06 655.00 L146.15 654.09 L145.25 652.28 M168.78 636.90 L166.06 637.80 L164.25 640.52 L163.34 645.04 L163.34 647.76 L164.25 652.28 L166.06 655.00 L168.78 655.90 L170.59 655.90 L173.30 655.00 L175.11 652.28 L176.01 647.76 L176.01 645.04 L175.11 640.52 L173.30 637.80 L170.59 636.90 L168.78 636.90 M186.88 636.90 L184.16 637.80 L182.35 640.52 L181.44 645.04 L181.44 647.76 L182.35 652.28 L184.16 655.00 L186.88 655.90 L188.69 655.90 L191.40 655.00 L193.21 652.28 L194.11 647.76 L194.11 645.04 L193.21 640.52 L191.40 637.80 L188.69 636.90 L186.88 636.90 M214.93 636.90 L214.93 655.90 M227.60 636.90 L214.93 649.57 M219.45 645.04 L227.60 655.90" fill="none" stroke="#000" stroke-width="1.3" stroke-linejoin="round" stroke-linecap="butt"/>
<path d="M80.64 665.53 L87.42 665.53 L87.42 664.40 L86.86 663.27 L86.30 662.71 L85.17 662.14 L83.47 662.14 L82.34 662.71 L81.21 663.84 L80.64 665.53 L80.64 666.66 L81.21 668.36 L82.34 669.49 L83.47 670.05 L85.17 670.05 L86.30 669.49 L87.42 668.36 M94.77 658.19 L93.64 658.19 L92.51 658.75 L91.95 660.45 L91.95 670.05 M90.25 662.14 L94.20 662.14 M101.55 658.19 L100.42 658.19 L99.29 658.75 L98.73 660.45 L98.73 670.05 M97.03 662.14 L100.98 662.14" fill="none" stroke="#000" stroke-width="1.2" stroke-linejoin="round" stroke-linecap="butt"/>
<path d="M10.14 837.89 L9.45 836.52 L7.39 835.84 L6.02 835.84 L3.96 836.52 L2.59 838.57 L1.90 841.99 L1.90 845.41 L2.59 848.15 L3.96 849.52 L6.02 850.20 L6.71 850.20 L8.76 849.52 L10.14 848.15 L10.82 846.10 L10.82 845.41 L10.14 843.36 L8.76 841.99 L6.71 841.31 L6.02 841.31 L3.96 841.99 L2.59 843.36 L1.90 845.41 M19.05 835.84 L17.00 836.52 L15.62 838.57 L14.94 841.99 L14.94 844.04 L15.62 847.46 L17.00 849.52 L19.05 850.20 L20.43 850.20 L22.48 849.52 L23.86 847.46 L24.54 844.04 L24.54 841.99 L23.86 838.57 L22.48 836.52 L20.43 835.84 L19.05 835.84 M32.77 835.84 L30.72 836.52 L29.34 838.57 L28.66 841.99 L28.66 844.04 L29.34 847.46 L30.72 849.52 L32.77 850.20 L34.15 850.20 L36.20 849.52 L37.58 847.46 L38.26 844.04 L38.26 841.99 L37.58 838.57 L36.20 836.52 L34.15 835.84 L32.77 835.84 M46.49 835.84 L44.44 836.52 L43.06 838.57 L42.38 841.99 L42.38 844.04 L43.06 847.46 L44.44 849.52 L46.49 850.20 L47.87 850.20 L49.92 849.52 L51.30 847.46 L51.98 844.04 L51.98 841.99 L51.30 838.57 L49.92 836.52 L47.87 835.84 L46.49 835.84" fill="none" stroke="#000" stroke-width="1.3" stroke-linejoin="round"/>
<path d="M203.32 835.84 L196.46 850.20 M193.72 835.84 L203.32 835.84 M211.55 835.84 L209.50 836.52 L208.12 838.57 L207.44 841.99 L207.44 844.04 L208.12 847.46 L209.50 849.52 L211.55 850.20 L212.93 850.20 L214.98 849.52 L216.36 847.46 L217.04 844.04 L217.04 841.99 L216.36 838.57 L214.98 836.52 L212.93 835.84 L211.55 835.84 M225.27 835.84 L223.22 836.52 L221.84 838.57 L221.16 841.99 L221.16 844.04 L221.84 847.46 L223.22 849.52 L225.27 850.20 L226.65 850.20 L228.70 849.52 L230.08 847.46 L230.76 844.04 L230.76 841.99 L230.08 838.57 L228.70 836.52 L226.65 835.84 L225.27 835.84 M238.99 835.84 L236.94 836.52 L235.56 838.57 L234.88 841.99 L234.88 844.04 L235.56 847.46 L236.94 849.52 L238.99 850.20 L240.37 850.20 L242.42 849.52 L243.80 847.46 L244.48 844.04 L244.48 841.99 L243.80 838.57 L242.42 836.52 L240.37 835.84 L238.99 835.84" fill="none" stroke="#000" stroke-width="1.3" stroke-linejoin="round"/>
<path d="M389.65 835.84 L387.59 836.52 L386.90 837.89 L386.90 839.26 L387.59 840.62 L388.96 841.31 L391.71 841.99 L393.76 842.68 L395.14 844.04 L395.82 845.41 L395.82 847.46 L395.14 848.83 L394.45 849.52 L392.39 850.20 L389.65 850.20 L387.59 849.52 L386.90 848.83 L386.22 847.46 L386.22 845.41 L386.90 844.04 L388.28 842.68 L390.33 841.99 L393.08 841.31 L394.45 840.62 L395.14 839.26 L395.14 837.89 L394.45 836.52 L392.39 835.84 L389.65 835.84 M404.05 835.84 L402.00 836.52 L400.62 838.57 L399.94 841.99 L399.94 844.04 L400.62 847.46 L402.00 849.52 L404.05 850.20 L405.43 850.20 L407.48 849.52 L408.86 847.46 L409.54 844.04 L409.54 841.99 L408.86 838.57 L407.48 836.52 L405.43 835.84 L404.05 835.84 M417.77 835.84 L415.72 836.52 L414.34 838.57 L413.66 841.99 L413.66 844.04 L414.34 847.46 L415.72 849.52 L417.77 850.20 L419.15 850.20 L421.20 849.52 L422.58 847.46 L423.26 844.04 L423.26 841.99 L422.58 838.57 L421.20 836.52 L419.15 835.84 L417.77 835.84 M431.49 835.84 L429.44 836.52 L428.06 838.57 L427.38 841.99 L427.38 844.04 L428.06 847.46 L429.44 849.52 L431.49 850.20 L432.87 850.20 L434.92 849.52 L436.30 847.46 L436.98 844.04 L436.98 841.99 L436.30 838.57 L434.92 836.52 L432.87 835.84 L431.49 835.84" fill="none" stroke="#000" stroke-width="1.3" stroke-linejoin="round"/>
<path d="M587.64 840.62 L586.95 842.68 L585.58 844.04 L583.52 844.73 L582.83 844.73 L580.78 844.04 L579.40 842.68 L578.72 840.62 L578.72 839.94 L579.40 837.89 L580.78 836.52 L582.83 835.84 L583.52 835.84 L585.58 836.52 L586.95 837.89 L587.64 840.62 L587.64 844.04 L586.95 847.46 L585.58 849.52 L583.52 850.20 L582.15 850.20 L580.09 849.52 L579.40 848.15 M596.55 835.84 L594.50 836.52 L593.12 838.57 L592.44 841.99 L592.44 844.04 L593.12 847.46 L594.50 849.52 L596.55 850.20 L597.93 850.20 L599.98 849.52 L601.36 847.46 L602.04 844.04 L602.04 841.99 L601.36 838.57 L599.98 836.52 L597.93 835.84 L596.55 835.84 M610.27 835.84 L608.22 836.52 L606.84 838.57 L606.16 841.99 L606.16 844.04 L606.84 847.46 L608.22 849.52 L610.27 850.20 L611.65 850.20 L613.70 849.52 L615.08 847.46 L615.76 844.04 L615.76 841.99 L615.08 838.57 L613.70 836.52 L611.65 835.84 L610.27 835.84 M623.99 835.84 L621.94 836.52 L620.56 838.57 L619.88 841.99 L619.88 844.04 L620.56 847.46 L621.94 849.52 L623.99 850.20 L625.37 850.20 L627.42 849.52 L628.80 847.46 L629.48 844.04 L629.48 841.99 L628.80 838.57 L627.42 836.52 L625.37 835.84 L623.99 835.84" fill="none" stroke="#000" stroke-width="1.3" stroke-linejoin="round"/>
<path d="M766.42 838.57 L767.79 837.89 L769.85 835.84 L769.85 850.20 M782.19 835.84 L780.14 836.52 L778.76 838.57 L778.08 841.99 L778.08 844.04 L778.76 847.46 L780.14 849.52 L782.19 850.20 L783.57 850.20 L785.62 849.52 L787.00 847.46 L787.68 844.04 L787.68 841.99 L787.00 838.57 L785.62 836.52 L783.57 835.84 L782.19 835.84 M795.91 835.84 L793.86 836.52 L792.48 838.57 L791.80 841.99 L791.80 844.04 L792.48 847.46 L793.86 849.52 L795.91 850.20 L797.29 850.20 L799.34 849.52 L800.72 847.46 L801.40 844.04 L801.40 841.99 L800.72 838.57 L799.34 836.52 L797.29 835.84 L795.91 835.84 M809.63 835.84 L807.58 836.52 L806.20 838.57 L805.52 841.99 L805.52 844.04 L806.20 847.46 L807.58 849.52 L809.63 850.20 L811.01 850.20 L813.06 849.52 L814.44 847.46 L815.12 844.04 L815.12 841.99 L814.44 838.57 L813.06 836.52 L811.01 835.84 L809.63 835.84 M823.35 835.84 L821.30 836.52 L819.92 838.57 L819.24 841.99 L819.24 844.04 L819.92 847.46 L821.30 849.52 L823.35 850.20 L824.73 850.20 L826.78 849.52 L828.16 847.46 L828.84 844.04 L828.84 841.99 L828.16 838.57 L826.78 836.52 L824.73 835.84 L823.35 835.84" fill="none" stroke="#000" stroke-width="1.3" stroke-linejoin="round"/>
<path d="M331.88 862.96 L335.32 876.50 M338.77 862.96 L335.32 876.50 M338.77 862.96 L342.21 876.50 M345.66 862.96 L342.21 876.50 M357.37 867.47 L357.37 876.50 M357.37 869.40 L355.99 868.12 L354.62 867.47 L352.55 867.47 L351.17 868.12 L349.79 869.40 L349.10 871.34 L349.10 872.63 L349.79 874.57 L351.17 875.86 L352.55 876.50 L354.62 876.50 L355.99 875.86 L357.37 874.57 M361.50 867.47 L365.64 876.50 M369.77 867.47 L365.64 876.50 M373.22 871.34 L381.49 871.34 L381.49 870.05 L380.80 868.76 L380.11 868.12 L378.73 867.47 L376.66 867.47 L375.29 868.12 L373.91 869.40 L373.22 871.34 L373.22 872.63 L373.91 874.57 L375.29 875.86 L376.66 876.50 L378.73 876.50 L380.11 875.86 L381.49 874.57 M386.31 862.96 L386.31 876.50 M391.13 871.34 L399.40 871.34 L399.40 870.05 L398.71 868.76 L398.02 868.12 L396.64 867.47 L394.58 867.47 L393.20 868.12 L391.82 869.40 L391.13 871.34 L391.13 872.63 L391.82 874.57 L393.20 875.86 L394.58 876.50 L396.64 876.50 L398.02 875.86 L399.40 874.57 M404.22 867.47 L404.22 876.50 M404.22 870.05 L406.29 868.12 L407.67 867.47 L409.73 867.47 L411.11 868.12 L411.80 870.05 L411.80 876.50 M424.89 867.47 L424.89 877.79 L424.20 879.73 L423.51 880.37 L422.14 881.01 L420.07 881.01 L418.69 880.37 M424.89 869.40 L423.51 868.12 L422.14 867.47 L420.07 867.47 L418.69 868.12 L417.31 869.40 L416.62 871.34 L416.62 872.63 L417.31 874.57 L418.69 875.86 L420.07 876.50 L422.14 876.50 L423.51 875.86 L424.89 874.57 M431.09 862.96 L431.09 873.92 L431.78 875.86 L433.16 876.50 L434.54 876.50 M429.03 867.47 L433.85 867.47 M438.67 862.96 L438.67 876.50 M438.67 870.05 L440.74 868.12 L442.12 867.47 L444.18 867.47 L445.56 868.12 L446.25 870.05 L446.25 876.50 M467.61 860.38 L466.23 861.66 L464.85 863.60 L463.48 866.18 L462.79 869.40 L462.79 871.99 L463.48 875.21 L464.85 877.79 L466.23 879.73 L467.61 881.01 M475.88 862.96 L470.37 876.50 M475.88 862.96 L481.39 876.50 M472.43 871.99 L479.32 871.99 M477.33 859.15 L477.22 858.63 L476.90 858.19 L476.43 857.90 L475.88 857.79 L475.33 857.90 L474.86 858.19 L474.54 858.63 L474.43 859.15 L474.54 859.67 L474.86 860.11 L475.33 860.40 L475.88 860.50 L476.43 860.40 L476.90 860.11 L477.22 859.67 L477.33 859.15 M484.15 860.38 L485.52 861.66 L486.90 863.60 L488.28 866.18 L488.97 869.40 L488.97 871.99 L488.28 875.21 L486.90 877.79 L485.52 879.73 L484.15 881.01" fill="none" stroke="#000" stroke-width="1.2" stroke-linejoin="round"/>
</svg>
<div class="sr">
<span style="left:64px;top:24px">T eff = 4000 K</span>
<span style="left:64px;top:228px">T eff = 3400 K</span>
<span style="left:64px;top:432px">T eff = 3000 K</span>
<span style="left:64px;top:635px">T eff = 2500 K</span>
<span style="left:2px;top:838px">6000</span><span style="left:200px;top:838px">7000</span><span style="left:392px;top:838px">8000</span><span style="left:585px;top:838px">9000</span><span style="left:765px;top:838px">10000</span>
<span style="left:332px;top:864px">Wavelength (Å)</span>
</div>
</body></html>
